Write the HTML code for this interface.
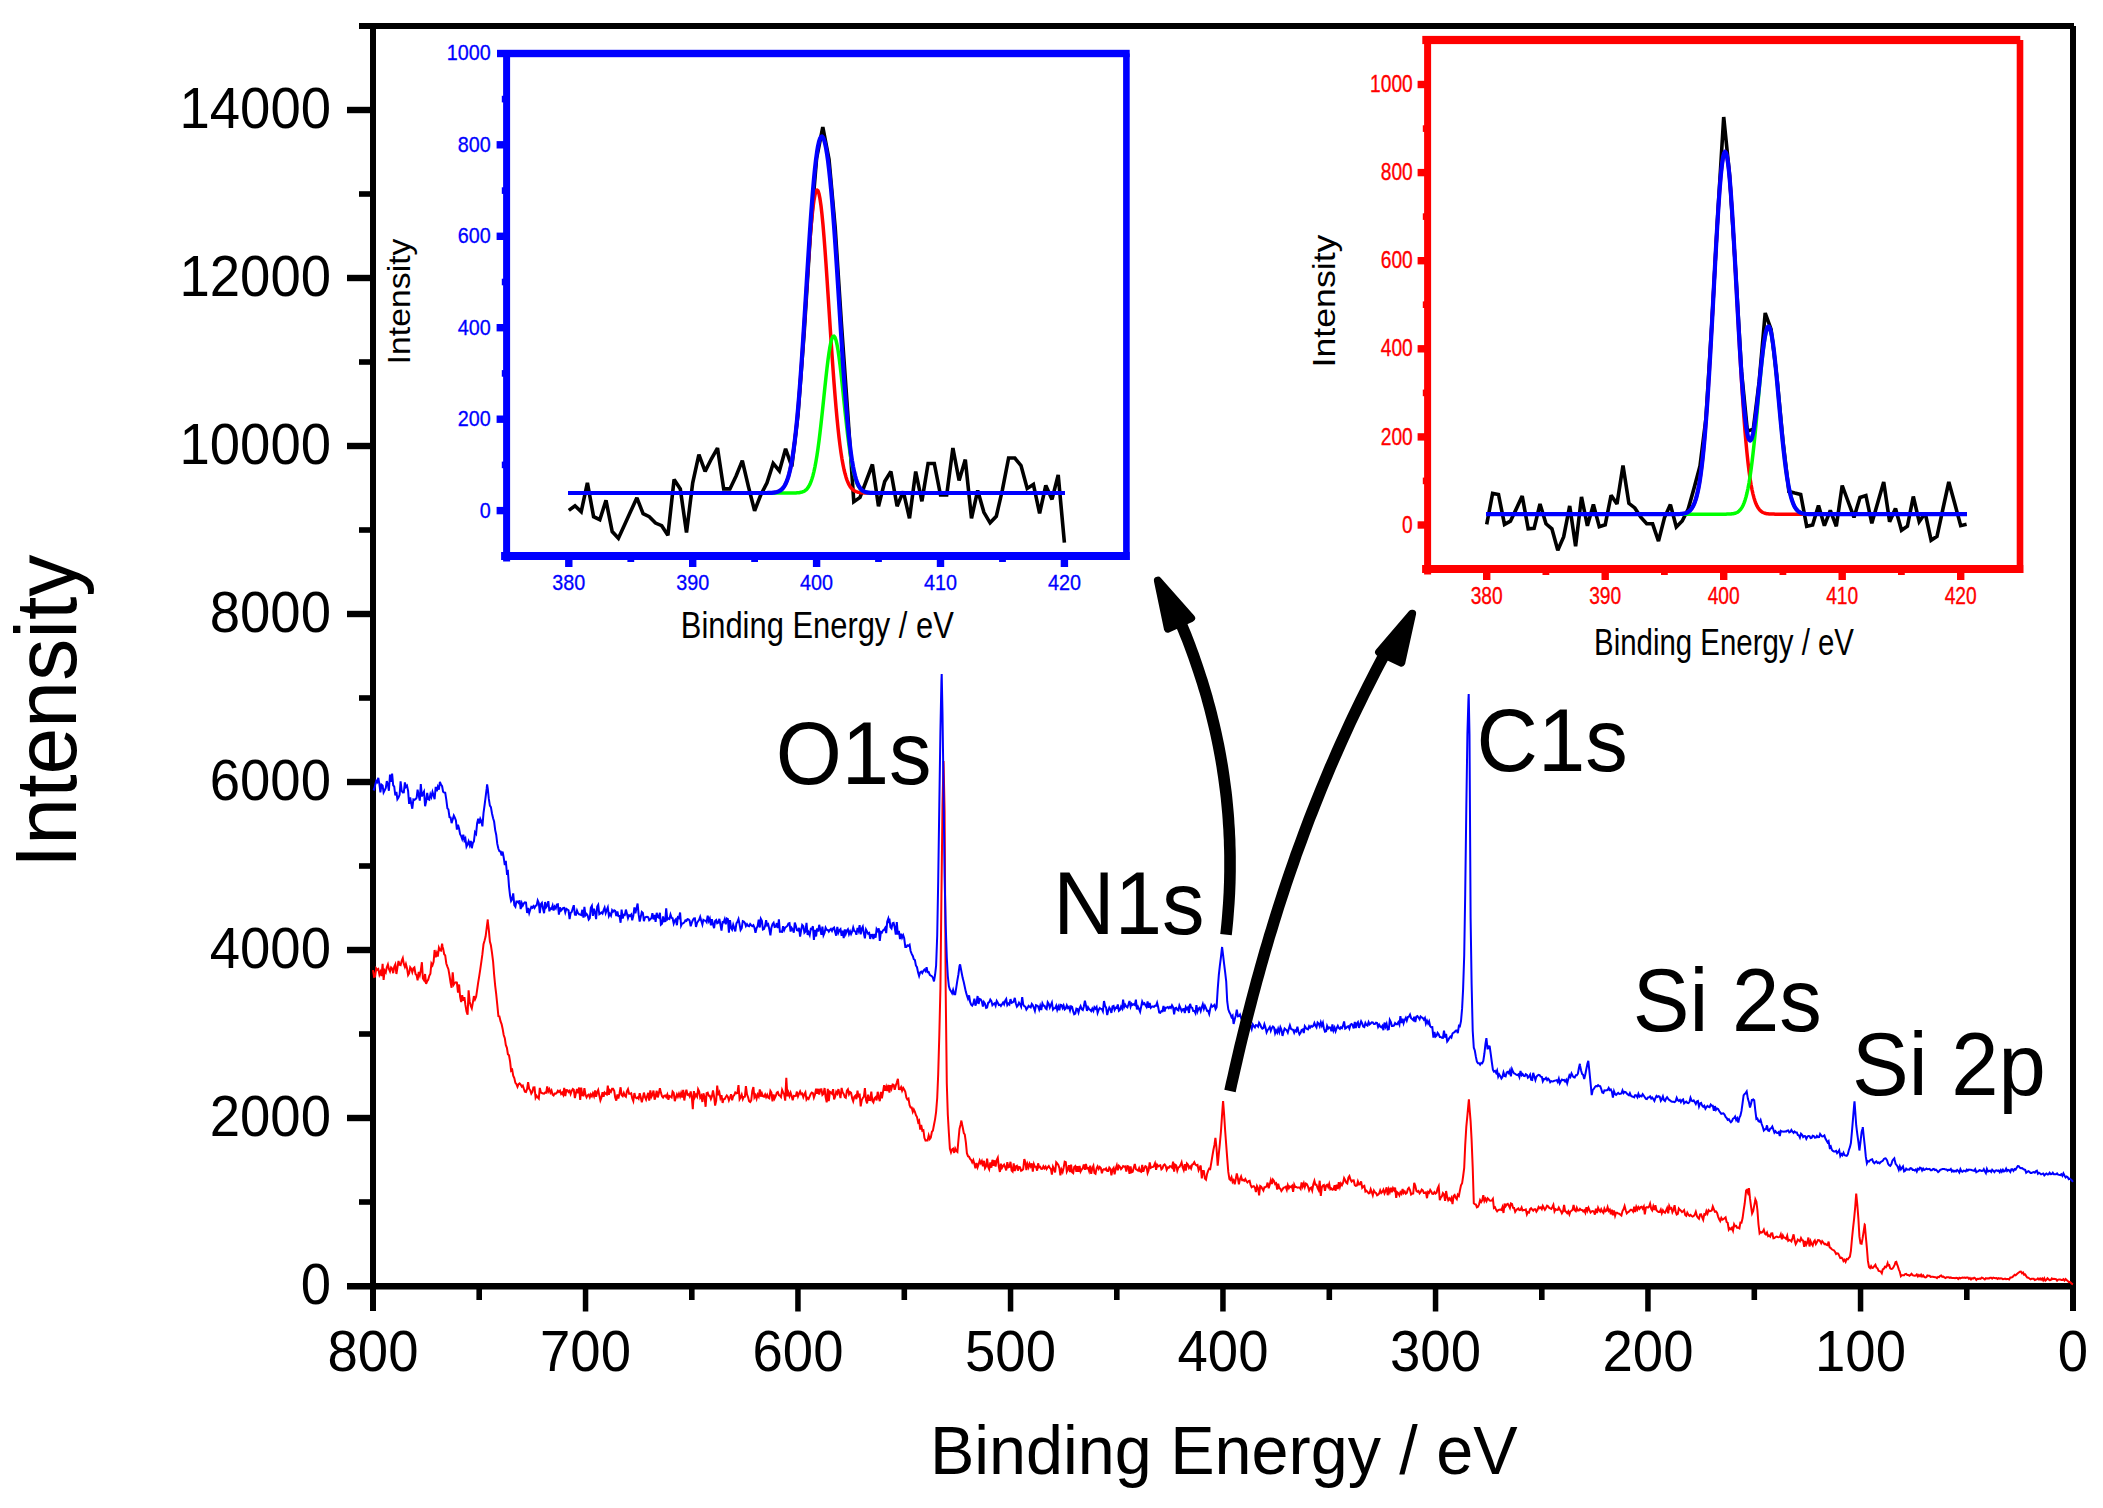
<!DOCTYPE html>
<html lang="en"><head><meta charset="utf-8"><title>XPS survey spectra</title>
<style>
html,body{margin:0;padding:0;background:#fff;}
body{width:2103px;height:1508px;overflow:hidden;}
svg{display:block;}
</style></head><body>
<svg width="2103" height="1508" viewBox="0 0 2103 1508" shape-rendering="geometricPrecision"><g fill="#000"><rect x="359" y="23" width="1715" height="6"/><rect x="370" y="26" width="6" height="1285"/><rect x="2070" y="26" width="6" height="1285"/><rect x="347" y="1283" width="1729" height="6.5"/><rect x="359" y="1199.2" width="14" height="5.6"/><rect x="347" y="1114.8" width="26" height="6.4"/><rect x="359" y="1031.2" width="14" height="5.6"/><rect x="347" y="946.8" width="26" height="6.4"/><rect x="359" y="863.2" width="14" height="5.6"/><rect x="347" y="778.8" width="26" height="6.4"/><rect x="359" y="695.2" width="14" height="5.6"/><rect x="347" y="610.8" width="26" height="6.4"/><rect x="359" y="527.2" width="14" height="5.6"/><rect x="347" y="442.8" width="26" height="6.4"/><rect x="359" y="359.2" width="14" height="5.6"/><rect x="347" y="274.8" width="26" height="6.4"/><rect x="359" y="191.2" width="14" height="5.6"/><rect x="347" y="106.8" width="26" height="6.4"/><rect x="1964" y="1286" width="5.6" height="14"/><rect x="1857.8" y="1286" width="5.5" height="25.5"/><rect x="1751.5" y="1286" width="5.6" height="14"/><rect x="1645.2" y="1286" width="5.5" height="25.5"/><rect x="1539" y="1286" width="5.6" height="14"/><rect x="1432.8" y="1286" width="5.5" height="25.5"/><rect x="1326.5" y="1286" width="5.6" height="14"/><rect x="1220.2" y="1286" width="5.5" height="25.5"/><rect x="1114" y="1286" width="5.6" height="14"/><rect x="1007.8" y="1286" width="5.5" height="25.5"/><rect x="901.5" y="1286" width="5.6" height="14"/><rect x="795.2" y="1286" width="5.5" height="25.5"/><rect x="689" y="1286" width="5.6" height="14"/><rect x="582.8" y="1286" width="5.5" height="25.5"/><rect x="476.4" y="1286" width="5.6" height="14"/></g>
<g font-family='"Liberation Sans", Arial, sans-serif' font-size="54.5" fill="#000"><text transform="translate(331,1303.6) scale(1,1.04)" text-anchor="end">0</text><text transform="translate(331,1135.6) scale(1,1.04)" text-anchor="end">2000</text><text transform="translate(331,967.6) scale(1,1.04)" text-anchor="end">4000</text><text transform="translate(331,799.6) scale(1,1.04)" text-anchor="end">6000</text><text transform="translate(331,631.6) scale(1,1.04)" text-anchor="end">8000</text><text transform="translate(331,463.6) scale(1,1.04)" text-anchor="end">10000</text><text transform="translate(331,295.6) scale(1,1.04)" text-anchor="end">12000</text><text transform="translate(331,127.6) scale(1,1.04)" text-anchor="end">14000</text><text transform="translate(2073,1371) scale(1,1.04)" text-anchor="middle">0</text><text transform="translate(1860.5,1371) scale(1,1.04)" text-anchor="middle">100</text><text transform="translate(1648,1371) scale(1,1.04)" text-anchor="middle">200</text><text transform="translate(1435.5,1371) scale(1,1.04)" text-anchor="middle">300</text><text transform="translate(1223,1371) scale(1,1.04)" text-anchor="middle">400</text><text transform="translate(1010.5,1371) scale(1,1.04)" text-anchor="middle">500</text><text transform="translate(798,1371) scale(1,1.04)" text-anchor="middle">600</text><text transform="translate(585.5,1371) scale(1,1.04)" text-anchor="middle">700</text><text transform="translate(373,1371) scale(1,1.04)" text-anchor="middle">800</text></g>
<text transform="translate(1223.8,1473.5) scale(1,1.02)" text-anchor="middle" font-family='"Liberation Sans", Arial, sans-serif' font-size="66.5" fill="#000">Binding Energy / eV</text>
<text transform="translate(75.7,711.3) rotate(-90) scale(1,1.045)" text-anchor="middle" font-family='"Liberation Sans", Arial, sans-serif' font-size="84.2" fill="#000">Intensity</text>
<polyline fill="none" stroke="#ff0000" stroke-width="2" stroke-linejoin="miter" points="373,970.2 374.1,976.9 375.1,976.6 376.2,968.4 377.2,969.8 378.3,969 379.4,974.6 380.4,971.9 381.5,976.1 382.6,963.8 383.6,980 384.7,970.6 385.8,972.3 386.8,967.2 387.9,964.4 388.9,968.9 390,971.4 391.1,967.4 392.1,968.4 393.2,973.2 394.2,966.7 395.3,964.4 396.4,974 397.4,967.9 398.5,961 399.6,964.8 400.6,965.2 401.7,960.7 402.8,958.1 403.8,963.9 404.9,967 405.9,964 407,968.2 408.1,975.2 409.1,973.5 410.2,967.3 411.2,968.7 412.3,972.2 413.4,968.4 414.4,967.5 415.5,974 416.6,975.2 417.6,980.4 418.7,971.8 419.8,975.3 420.8,970.6 421.9,962.2 422.9,978.5 424,980.2 425.1,974 426.1,984 427.2,981.1 428.2,979.7 429.3,975.8 430.4,973.6 431.4,963.5 432.5,965.4 433.6,961.9 434.6,950 435.7,957.2 436.8,953.1 437.8,956.5 438.9,947.8 439.9,950.2 441,950.6 442.1,943.6 442.6,947 443.1,948.6 444.2,954.2 445.2,955.4 446.3,963.5 447.4,966.6 448.4,969.2 449.5,975.5 450.6,982.8 451.6,987.8 452.7,972.4 453.8,984.5 454.8,982.9 455.9,982.3 456.9,982.6 458,992.7 459.1,984.5 460.1,996.7 461.2,1002 462.2,995.1 463.3,1000.8 464.4,997.2 465.4,1004.9 466.5,1011.4 467.6,1014.8 468.6,990.3 469.7,1001.7 470.8,1006 471.8,1008.5 472.9,1002.3 473.9,996.1 475,999.4 476.1,996.8 477.1,990.1 478.2,982.3 479.2,976.4 480.3,969.1 481.4,961.3 482.4,954.2 483.5,944.3 484.6,940.6 485.6,936.6 486.7,927.9 487.8,919.4 487.8,921.3 488.8,929.6 489.9,941.6 490.9,945.3 492,952.9 493.1,961.7 494.1,974.3 495.2,985.8 496.2,994.2 497.3,1004.9 498.4,1016.2 499.4,1016.3 500.5,1021.1 501.6,1024.1 502.6,1028.7 503.7,1035 504.8,1038.2 505.8,1044.9 506.9,1047.8 507.9,1054.2 509,1055.3 510.1,1061.6 511.1,1070.7 512.2,1069.7 513.2,1075.7 514.3,1078.1 515.4,1082.9 516.4,1084.1 517.5,1086.8 518.6,1084.2 519.6,1083.4 520.7,1084.5 521.8,1086.6 522.8,1085.6 523.9,1088.9 524.9,1091.6 526,1092 527.1,1088.9 528.1,1082.1 529.2,1088.9 530.2,1090.2 531.3,1093.6 532.4,1091.9 533.4,1087.4 534.5,1087.3 535.6,1097.8 536.6,1095.8 537.7,1097.5 538.8,1098.7 539.8,1087.9 540.9,1092.6 541.9,1093 543,1093.6 544.1,1093.7 545.1,1092.6 546.2,1092.7 547.2,1086.4 548.3,1091.5 549.4,1089.3 550.4,1092.6 551.5,1090.5 552.6,1094.6 553.6,1095.4 554.7,1093.5 555.8,1093.6 556.8,1092.8 557.9,1090.8 558.9,1091.9 560,1090.7 561.1,1094 562.1,1092.7 563.2,1094.8 564.2,1087.8 565.3,1096.1 566.4,1090 567.4,1090.1 568.5,1092.1 569.6,1090.8 570.6,1094.1 571.7,1090.9 572.8,1089.1 573.8,1089.9 574.9,1098 575.9,1093.3 577,1088.9 578.1,1093.3 579.1,1087.5 580.2,1100 581.2,1087.7 582.3,1095.2 583.4,1095.5 584.4,1088.1 585.5,1094.7 586.6,1097.3 587.6,1095.4 588.7,1094.6 589.8,1097.3 590.8,1094.4 591.9,1096.2 592.9,1093.4 594,1096.2 595.1,1090.4 596.1,1096.9 597.2,1092.1 598.2,1090 599.3,1095.4 600.4,1100.4 601.4,1097.7 602.5,1092.2 603.6,1096.7 604.6,1092.5 605.7,1093.7 606.8,1094.5 607.8,1085.6 608.9,1094.9 609.9,1090.4 611,1091.7 612.1,1088.8 613.1,1088.7 614.2,1090.8 615.2,1097.4 616.3,1100.6 617.4,1094.3 618.4,1098.5 619.5,1093.4 620.6,1087.3 621.6,1095 622.7,1096.1 623.8,1092.9 624.8,1095.6 625.9,1096.7 626.9,1091.3 628,1089.1 629.1,1093.8 630.1,1093.8 631.2,1093.3 632.2,1098.3 633.3,1101.1 634.4,1093.1 635.4,1097.3 636.5,1098.2 637.6,1097.4 638.6,1098.7 639.7,1093.3 640.8,1097.6 641.8,1102.3 642.9,1097.8 643.9,1092.6 645,1097.1 646.1,1099.6 647.1,1096.3 648.2,1092.9 649.2,1100.7 650.3,1090.3 651.4,1096.9 652.4,1094.9 653.5,1090.6 654.6,1099.6 655.6,1096.4 656.7,1090.8 657.8,1097.4 658.8,1093.5 659.9,1088.1 660.9,1092.6 662,1096.2 663.1,1097.6 664.1,1095.9 665.2,1095.4 666.2,1097 667.3,1094.5 668.4,1099.7 669.4,1095.9 670.5,1096.5 671.6,1097.4 672.6,1091.5 673.7,1092.8 674.8,1101.1 675.8,1097.8 676.9,1094.4 677.9,1096.8 679,1093.7 680.1,1096.6 681.1,1093.1 682.2,1097.5 683.2,1089.8 684.3,1100.5 685.4,1093.7 686.4,1089.8 687.5,1094.8 688.6,1094.3 689.6,1096.3 690.7,1091.5 691.8,1097.2 692.8,1109.2 693.9,1091.1 694.9,1097.1 696,1094.7 697.1,1096.6 698.1,1089.2 699.2,1091.6 700.2,1097.6 701.3,1095.8 702.4,1102 703.4,1093.4 704.5,1096.6 705.6,1106.8 706.6,1093.1 707.7,1092.6 708.8,1095.8 709.8,1095.8 710.9,1099 711.9,1096.4 713,1090.5 714.1,1096.6 715.1,1105.6 716.2,1100.5 717.2,1085.5 718.3,1095.2 719.4,1092.5 720.4,1098 721.5,1095.1 722.6,1102.9 723.6,1099.1 724.7,1099 725.8,1097 726.8,1095.5 727.9,1096.9 728.9,1100.4 730,1097.5 731.1,1094.2 732.1,1100.3 733.2,1096.2 734.2,1095.2 735.3,1092.5 736.4,1093.4 737.4,1093.1 738.5,1085.1 739.6,1099.2 740.6,1097.5 741.7,1094.6 742.8,1099.2 743.8,1096.9 744.9,1096.7 745.9,1086.1 747,1094.4 748.1,1097.2 749.1,1101.2 750.2,1102 751.2,1100.5 752.3,1090.9 753.4,1087 754.4,1097.3 755.5,1095.2 756.6,1098.7 757.6,1094.6 758.7,1096.6 759.8,1089.5 760.8,1096.7 761.9,1093.4 762.9,1096.3 764,1096.7 765.1,1094.5 766.1,1097.2 767.2,1094.9 768.2,1097.7 769.3,1098.4 770.4,1091 771.4,1092.7 772.5,1101.3 773.6,1094.4 774.6,1098.5 775.7,1096.2 776.8,1092.7 777.8,1092 778.9,1095.2 779.9,1095.6 781,1097 782.1,1090 783.1,1092.4 784.2,1094.3 785.2,1100.6 786.3,1077.9 787.4,1096.2 788.4,1092.5 789.5,1096.1 790.6,1092.7 791.6,1095.8 792.7,1100.3 793.8,1095.8 794.8,1096 795.9,1095.8 796.9,1091.6 798,1096.4 799.1,1093.6 800.1,1091.3 801.2,1094.2 802.2,1093.5 803.3,1097.1 804.4,1094.1 805.4,1092.3 806.5,1099.6 807.6,1097.9 808.6,1098.9 809.7,1096.4 810.8,1093.8 811.8,1092.6 812.9,1093.1 813.9,1097.6 815,1094.5 816.1,1088.6 817.1,1093.9 818.2,1088.8 819.2,1094.6 820.3,1089.5 821.4,1089.4 822.4,1094.9 823.5,1093.8 824.6,1088 825.6,1097 826.7,1102.3 827.8,1088.8 828.8,1101.1 829.9,1091.8 830.9,1092.6 832,1093.8 833.1,1089.2 834.1,1099.4 835.2,1096.4 836.2,1091.9 837.3,1093.7 838.4,1089.1 839.4,1093.5 840.5,1098.1 841.6,1087.9 842.6,1092.2 843.7,1094 844.8,1097 845.8,1097.7 846.9,1090.6 847.9,1089.3 849,1094.3 850.1,1092 851.1,1092.8 852.2,1098.5 853.2,1101.3 854.3,1096.8 855.4,1095.7 856.4,1099.1 857.5,1090.6 858.6,1097.4 859.6,1093.6 860.7,1106.3 861.8,1100.1 862.8,1098 863.9,1096.7 864.9,1088.2 866,1100.1 867.1,1103.4 868.1,1094.7 869.2,1099.9 870.2,1100.1 871.3,1091.7 872.4,1100.9 873.4,1102.4 874.5,1098.3 875.6,1097.2 876.6,1100.4 877.7,1091.8 878.8,1097.8 879.8,1101.1 880.9,1091.9 881.9,1098.2 883,1092.1 884.1,1085.1 885.1,1090.8 886.2,1087 887.2,1091.1 888.3,1084.9 889.4,1092.5 890.4,1085.2 891.5,1088.6 892.6,1084.5 893.6,1084.8 894.7,1089.8 895.8,1085.5 896.8,1082.6 897.9,1078.9 898.9,1089.1 900,1089.2 901.1,1087.2 902.1,1090.7 903.2,1088 904.2,1089.6 905.3,1091.9 906.4,1097.6 907.4,1099.5 908.5,1098.6 909.6,1105.1 910.6,1107.4 911.7,1107.4 912.8,1111.8 913.8,1109.5 914.9,1111.8 915.9,1115.1 917,1117 918.1,1122 919.1,1120.6 920.2,1129.6 921.2,1124.9 922.3,1130.7 923.4,1130.2 924.4,1137.8 925.5,1140.6 926.6,1140.2 927.6,1140.4 928.7,1135.4 929.8,1139 930.8,1137.7 931.9,1131.8 932.9,1130.6 934,1124.7 935.1,1119.1 936.1,1111.8 937.2,1098 938.2,1074.1 939.3,1035.5 940.4,989.1 941.4,898.4 942.5,806 943.5,761 943.6,763.7 944.6,811.6 945.7,991 946.8,1083.5 947.8,1114.5 948.9,1133.2 949.9,1148.9 951,1152.4 952.1,1149.4 953.1,1148.7 954.2,1152.9 955.2,1148.5 956.3,1150.9 957.4,1151.9 958.4,1140.6 959.5,1128.9 960.6,1124.4 961.4,1120.5 961.6,1122.3 962.7,1127.3 963.8,1133 964.8,1134.5 965.9,1142.6 966.9,1153.2 968,1156.2 969.1,1156.8 970.1,1159 971.2,1160.1 972.2,1162.4 973.3,1160.1 974.4,1163.9 975.4,1168.3 976.5,1163 977.6,1167.3 978.6,1164.5 979.7,1160.5 980.8,1163.1 981.8,1161.1 982.9,1166.3 983.9,1160.8 985,1168.1 986.1,1166.1 987.1,1158.6 988.2,1166.9 989.2,1169.2 990.3,1162.5 991.4,1167.7 992.4,1159.8 993.5,1165.8 994.6,1160.3 995.6,1166.6 996.7,1160.1 997.8,1157.7 998.8,1166.5 999.9,1172 1000.9,1163.7 1002,1167.9 1003.1,1165.9 1004.1,1164.7 1005.2,1167.4 1006.2,1170.4 1007.3,1162.2 1008.4,1167.4 1009.4,1166.9 1010.5,1161.8 1011.6,1170.6 1012.6,1171.6 1013.7,1163.4 1014.8,1171.1 1015.8,1166.4 1016.9,1165.8 1017.9,1170.6 1019,1167 1020.1,1167.3 1021.1,1170.8 1022.2,1170.2 1023.2,1169.1 1024.3,1159 1025.4,1162.2 1026.4,1170 1027.5,1164.1 1028.6,1167.3 1029.6,1163.8 1030.7,1166.4 1031.8,1163.4 1032.8,1171.7 1033.9,1164.2 1034.9,1166.8 1036,1166.7 1037.1,1170.7 1038.1,1163.3 1039.2,1167.3 1040.2,1166.8 1041.3,1169 1042.4,1168.9 1043.4,1166.3 1044.5,1168.3 1045.6,1166.6 1046.6,1169.1 1047.7,1167.3 1048.8,1166 1049.8,1167.9 1050.9,1169 1051.9,1174.5 1053,1166.7 1054.1,1169 1055.1,1172.4 1056.2,1162.3 1057.2,1163.4 1058.3,1165 1059.4,1168.1 1060.4,1175.4 1061.5,1169.6 1062.6,1172 1063.6,1168 1064.7,1161.7 1065.8,1162.2 1066.8,1171.7 1067.9,1169.4 1068.9,1165.2 1070,1172.1 1071.1,1164.7 1072.1,1172.3 1073.2,1173.2 1074.2,1167 1075.3,1166.1 1076.4,1171.7 1077.4,1166.2 1078.5,1171.8 1079.6,1166 1080.6,1171.6 1081.7,1169.6 1082.8,1168.1 1083.8,1164.5 1084.9,1169.9 1085.9,1163.9 1087,1168.4 1088.1,1168 1089.1,1171.1 1090.2,1165.6 1091.2,1173.9 1092.3,1168.2 1093.4,1165.8 1094.4,1172.9 1095.5,1173.7 1096.6,1168.4 1097.6,1166.4 1098.7,1168.9 1099.8,1166.9 1100.8,1167.9 1101.9,1173.2 1102.9,1169.9 1104,1169.2 1105.1,1169.7 1106.1,1168.5 1107.2,1171.1 1108.2,1171.1 1109.3,1167.6 1110.4,1168.9 1111.4,1175.4 1112.5,1169.7 1113.6,1168 1114.6,1174.3 1115.7,1168.5 1116.8,1165.3 1117.8,1170.3 1118.9,1165.8 1119.9,1166.9 1121,1169.2 1122.1,1167.9 1123.1,1166.1 1124.2,1166.7 1125.2,1166.5 1126.3,1171.5 1127.4,1166.1 1128.4,1166.5 1129.5,1173.9 1130.6,1166.5 1131.6,1172.3 1132.7,1171.8 1133.8,1167.6 1134.8,1163.9 1135.9,1169.2 1136.9,1169.8 1138,1170.6 1139.1,1168.1 1140.1,1171.3 1141.2,1171.8 1142.2,1164.8 1143.3,1171.8 1144.4,1168.2 1145.4,1166.1 1146.5,1166.8 1147.6,1173 1148.6,1170.4 1149.7,1162.5 1150.8,1167.8 1151.8,1167.1 1152.9,1167 1153.9,1166 1155,1163.3 1156.1,1169.9 1157.1,1164.7 1158.2,1166.3 1159.2,1165.6 1160.3,1165.2 1161.4,1169.4 1162.4,1168.4 1163.5,1165.3 1164.6,1164.5 1165.6,1165.8 1166.7,1169.9 1167.8,1167.5 1168.8,1167.8 1169.9,1166.1 1170.9,1166.3 1172,1167.6 1173.1,1161.7 1174.1,1171.6 1175.2,1164.7 1176.2,1165.3 1177.3,1170.7 1178.4,1167.5 1179.4,1166.9 1180.5,1165.1 1181.6,1162.3 1182.6,1167.3 1183.7,1170.1 1184.8,1164.1 1185.8,1170.6 1186.9,1163.4 1187.9,1164.5 1189,1168 1190.1,1166.5 1191.1,1168.5 1192.2,1164.5 1193.2,1164.1 1194.3,1162.2 1195.4,1164.6 1196.4,1165.4 1197.5,1164.9 1198.6,1170.2 1199.6,1168 1200.7,1165.5 1201.8,1178.4 1202.8,1170.9 1203.9,1171.1 1204.9,1178.6 1206,1179.7 1207.1,1173.9 1208.1,1170.9 1209.2,1168.6 1210.2,1169.1 1211.3,1162.7 1212.4,1155.8 1213.4,1150 1214.5,1144.7 1215.4,1138 1215.6,1139.4 1216.6,1149.1 1217.7,1165.6 1218.8,1154 1219.8,1144.2 1220.9,1132 1221.9,1117.4 1223,1101.8 1223.1,1101 1224.1,1114.3 1225.1,1130 1226.2,1144.7 1227.2,1158.1 1228.3,1171.9 1229.4,1178.9 1230.4,1179.9 1231.5,1177.2 1232.6,1181.9 1233.6,1180.3 1234.7,1184.2 1235.8,1178.9 1236.8,1173.4 1237.9,1178.4 1238.9,1184.3 1240,1179.1 1241.1,1176.5 1242.1,1180.1 1243.2,1179.9 1244.2,1180.7 1245.3,1179 1246.4,1181.3 1247.4,1182.5 1248.5,1181.1 1249.6,1180.8 1250.6,1184.8 1251.7,1187.2 1252.8,1186.5 1253.8,1186.2 1254.9,1187.6 1255.9,1192 1257,1186.1 1258.1,1188.2 1259.1,1195.3 1260.2,1186 1261.2,1186.7 1262.3,1188.8 1263.4,1190.6 1264.4,1187.2 1265.5,1187.3 1266.6,1186.2 1267.6,1182.6 1268.7,1188.2 1269.8,1184.4 1270.8,1180.2 1271.9,1184 1272.9,1179.5 1274,1181 1275.1,1184.1 1276.1,1183.3 1277.2,1189.5 1278.2,1183.7 1279.3,1188.1 1280.4,1188.8 1281.4,1191 1282.5,1189.5 1283.6,1187.7 1284.6,1187.4 1285.7,1186.8 1286.8,1189.8 1287.8,1185.1 1288.9,1188.1 1289.9,1186.4 1291,1187.2 1292.1,1185.8 1293.1,1191.9 1294.2,1184.6 1295.2,1186.9 1296.3,1186.9 1297.4,1187.7 1298.4,1187.4 1299.5,1187.4 1300.6,1188.9 1301.6,1182.5 1302.7,1186.5 1303.8,1183.3 1304.8,1187.1 1305.9,1183.5 1306.9,1184.2 1308,1186.5 1309.1,1190.4 1310.1,1188.3 1311.2,1187.6 1312.2,1190.5 1313.3,1184.3 1314.4,1180.9 1315.4,1184.8 1316.5,1184.7 1317.6,1188.2 1318.6,1190.1 1319.7,1180.7 1320.8,1196 1321.8,1187.4 1322.9,1185.6 1323.9,1185 1325,1190.9 1326.1,1185.6 1327.1,1184.8 1328.2,1187.1 1329.2,1183.9 1330.3,1189.2 1331.4,1188.4 1332.4,1189.7 1333.5,1189.3 1334.6,1185.3 1335.6,1190.9 1336.7,1184.6 1337.8,1189 1338.8,1182.2 1339.9,1186.9 1340.9,1183.4 1342,1185.1 1343.1,1182.7 1344.1,1178.1 1345.2,1180.2 1346.2,1182.6 1347.3,1183.5 1348.4,1177.7 1349.4,1176.1 1350.5,1179.6 1351.6,1181.5 1352.6,1180.5 1353.7,1180.4 1354.8,1185.1 1355.8,1185.8 1356.9,1185.5 1357.9,1181.5 1359,1184.5 1360.1,1184.2 1361.1,1181.3 1362.2,1187.7 1363.2,1186.5 1364.3,1185.9 1365.4,1191.5 1366.4,1190.7 1367.5,1191.8 1368.6,1193.4 1369.6,1193.1 1370.7,1189.2 1371.8,1192.1 1372.8,1195.3 1373.9,1190.6 1374.9,1192.3 1376,1193 1377.1,1195.3 1378.1,1194.7 1379.2,1193.4 1380.2,1190.4 1381.3,1192.9 1382.4,1191.7 1383.4,1189.7 1384.5,1193.3 1385.6,1190.8 1386.6,1187.4 1387.7,1195.2 1388.8,1189.3 1389.8,1192.1 1390.9,1187.8 1391.9,1192.2 1393,1188.1 1394.1,1190.1 1395.1,1187.7 1396.2,1197.9 1397.2,1192.2 1398.3,1193.1 1399.4,1195.3 1400.4,1192.2 1401.5,1193.8 1402.6,1189.1 1403.6,1193 1404.7,1191.5 1405.8,1193.8 1406.8,1193 1407.9,1189.1 1408.9,1187.9 1410,1190 1411.1,1194.4 1412.1,1193.6 1413.2,1193.5 1414.2,1182.9 1415.3,1185.8 1416.4,1191 1417.4,1191.7 1418.5,1191 1419.6,1193.4 1420.6,1192.1 1421.7,1189.5 1422.8,1190.3 1423.8,1192.9 1424.9,1192.7 1425.9,1192.3 1427,1198.2 1428.1,1191.9 1429.1,1192.8 1430.2,1190 1431.2,1191.6 1432.3,1193.8 1433.4,1193.9 1434.4,1192.1 1435.5,1193.5 1436.6,1192.6 1437.6,1188.5 1438.7,1186.1 1439.8,1200.2 1440.8,1197.5 1441.9,1196.3 1442.9,1193.1 1444,1194.5 1445.1,1200.9 1446.1,1191 1447.2,1197.1 1448.2,1200.1 1449.3,1198.4 1450.4,1200 1451.4,1197.9 1452.5,1204.1 1453.6,1195.9 1454.6,1195 1455.7,1197.7 1456.8,1199.2 1457.8,1194.7 1458.9,1195.9 1459.9,1190.6 1461,1185.4 1462.1,1183.3 1463.1,1176.5 1464.2,1167.8 1465.2,1145.2 1466.3,1126.9 1467.4,1115.3 1468.4,1104.3 1468.9,1099.4 1469.5,1107.6 1470.6,1121.1 1471.6,1139.9 1472.7,1167.1 1473.8,1203.3 1474.8,1204.1 1475.9,1204.6 1476.9,1207.3 1478,1206.8 1479.1,1204.3 1480.1,1200.1 1481.2,1202 1482.2,1200.4 1483.3,1195.2 1484.4,1200.9 1485.4,1198.7 1486.5,1201.1 1487.6,1198.3 1488.6,1199.2 1489.7,1200.6 1490.8,1200.8 1491.8,1200.5 1492.9,1198.8 1493.9,1208 1495,1207.2 1496.1,1209.8 1497.1,1211.3 1498.2,1210 1499.2,1209.7 1500.3,1209.5 1501.4,1210 1502.4,1207.3 1503.5,1213 1504.6,1203.7 1505.6,1206.3 1506.7,1204.6 1507.8,1203.9 1508.8,1205.5 1509.9,1207.9 1510.9,1203.5 1512,1204 1513.1,1207.9 1514.1,1208 1515.2,1211.8 1516.2,1210.3 1517.3,1209.1 1518.4,1208.4 1519.4,1210.2 1520.5,1209.9 1521.6,1207.5 1522.6,1210.5 1523.7,1210.1 1524.8,1210 1525.8,1209.5 1526.9,1214.3 1527.9,1212.1 1529,1212.6 1530.1,1209.1 1531.1,1208.2 1532.2,1209.7 1533.2,1210.7 1534.3,1209.2 1535.4,1209.3 1536.4,1211.7 1537.5,1210.1 1538.6,1207 1539.6,1208.1 1540.7,1207.4 1541.8,1209.1 1542.8,1205.9 1543.9,1207.9 1544.9,1209.7 1546,1208 1547.1,1205.7 1548.1,1206.2 1549.2,1207.9 1550.2,1208.3 1551.3,1208.9 1552.4,1207 1553.4,1204.8 1554.5,1211.3 1555.6,1209.2 1556.6,1209.9 1557.7,1210 1558.8,1207.5 1559.8,1209.5 1560.9,1211.1 1561.9,1213.3 1563,1211.5 1564.1,1204.9 1565.1,1211.1 1566.2,1211.8 1567.2,1213.2 1568.3,1211.3 1569.4,1214.5 1570.4,1211.5 1571.5,1210.8 1572.6,1209.8 1573.6,1204.9 1574.7,1210.3 1575.8,1211.2 1576.8,1207.8 1577.9,1210.6 1578.9,1210.6 1580,1208.9 1581.1,1210 1582.1,1210 1583.2,1211.5 1584.2,1210.3 1585.3,1212.7 1586.4,1207.2 1587.4,1210.8 1588.5,1207.7 1589.6,1210.3 1590.6,1212.5 1591.7,1211.4 1592.8,1211 1593.8,1211.4 1594.9,1214.6 1595.9,1208.7 1597,1213.1 1598.1,1207.8 1599.1,1210.1 1600.2,1211.6 1601.2,1209.3 1602.3,1211.7 1603.4,1212.9 1604.4,1208.7 1605.5,1211.2 1606.6,1210.5 1607.6,1207.1 1608.7,1211 1609.8,1209.7 1610.8,1214.4 1611.9,1209.6 1612.9,1215.3 1614,1210.4 1615.1,1215.9 1616.1,1212.8 1617.2,1212.7 1618.2,1213.5 1619.3,1213.7 1620.4,1214.8 1621.4,1215.6 1622.5,1211 1623.6,1209.1 1624.6,1206 1625.7,1210.3 1626.8,1213.4 1627.8,1212.4 1628.9,1211.7 1629.9,1210.5 1631,1209.6 1632.1,1210.2 1633.1,1211.6 1634.2,1206.6 1635.2,1212 1636.3,1206.9 1637.4,1209.6 1638.4,1207.1 1639.5,1208.8 1640.6,1207.1 1641.6,1206.7 1642.7,1208.6 1643.8,1206.5 1644.8,1214.3 1645.9,1207.6 1646.9,1207.1 1648,1207.6 1649.1,1206.6 1650.1,1203.7 1651.2,1208.8 1652.2,1210.3 1653.3,1206.4 1654.4,1210 1655.4,1205.1 1656.5,1210.3 1657.6,1211.4 1658.6,1211.9 1659.7,1211.9 1660.8,1209.6 1661.8,1213.3 1662.9,1210.4 1663.9,1212.1 1665,1212.8 1666.1,1210.4 1667.1,1208.1 1668.2,1213.4 1669.2,1206 1670.3,1208.7 1671.4,1208.1 1672.4,1212.3 1673.5,1209.9 1674.6,1205.2 1675.6,1211.7 1676.7,1214.6 1677.8,1213.9 1678.8,1208.5 1679.9,1209.8 1680.9,1210.7 1682,1212.1 1683.1,1211.3 1684.1,1210.1 1685.2,1215 1686.2,1215.8 1687.3,1212.7 1688.4,1214.7 1689.4,1215.8 1690.5,1214.9 1691.6,1216 1692.6,1216.6 1693.7,1216 1694.8,1214.5 1695.8,1211.8 1696.9,1216 1697.9,1217.6 1699,1218.8 1700.1,1214.4 1701.1,1214.3 1702.2,1217.4 1703.2,1219.8 1704.3,1214.2 1705.4,1214.6 1706.4,1211 1707.5,1213.6 1708.6,1210.1 1709.6,1211.2 1710.7,1211.1 1711.8,1210.3 1712.8,1206.5 1713.9,1209.3 1714.9,1211.8 1716,1211.4 1717.1,1213 1718.1,1216.6 1719.2,1219.2 1720.2,1221 1721.3,1217.8 1722.4,1219.7 1723.4,1219.2 1724.5,1218.3 1725.6,1217.4 1726.6,1221.9 1727.7,1222.8 1728.8,1229.6 1729.8,1228.2 1730.9,1229.2 1731.9,1227.8 1733,1230.7 1734.1,1224.3 1735.1,1226.3 1736.2,1225.9 1737.2,1227.9 1738.3,1227.6 1739.4,1228.3 1740.4,1222.7 1741.5,1222.8 1742.6,1218.1 1743.6,1210.6 1744.7,1203.5 1745.8,1193.4 1746.1,1190.5 1746.8,1189.9 1747.9,1192.7 1748.9,1188.1 1749.1,1189.3 1750,1198.4 1751.1,1206.8 1752.1,1213.4 1753.2,1210.9 1754.2,1205.6 1755.3,1200.3 1755.4,1199.5 1756.4,1201.8 1757.4,1210 1758.5,1224.5 1759.6,1233.3 1760.6,1232.1 1761.7,1232.6 1762.8,1231.6 1763.8,1229.7 1764.9,1233.6 1765.9,1234.5 1767,1232.6 1768.1,1236.2 1769.1,1235.5 1770.2,1236.6 1771.2,1233.5 1772.3,1233.4 1773.4,1238.3 1774.4,1238.1 1775.5,1237 1776.6,1236.6 1777.6,1237 1778.7,1237.3 1779.8,1236.8 1780.8,1234.3 1781.9,1239.3 1782.9,1235.5 1784,1237.6 1785.1,1237.8 1786.1,1238.9 1787.2,1235.8 1788.2,1240.7 1789.3,1239.9 1790.4,1240.3 1791.4,1241.3 1792.5,1238 1793.6,1234.3 1794.6,1240.4 1795.7,1244.2 1796.8,1242.2 1797.8,1239.6 1798.9,1240.6 1799.9,1241.4 1801,1238.1 1802.1,1240.3 1803.1,1240.5 1804.2,1246.8 1805.2,1240.9 1806.3,1244.8 1807.4,1242.5 1808.4,1237.5 1809.5,1246.5 1810.6,1241.3 1811.6,1243.8 1812.7,1245.5 1813.8,1241.7 1814.8,1240.4 1815.9,1244 1816.9,1242.3 1818,1240 1819.1,1240.2 1820.1,1241.2 1821.2,1243.3 1822.2,1241.1 1823.3,1242.5 1824.4,1244.1 1825.4,1243.9 1826.5,1244.8 1827.6,1245.2 1828.6,1241.6 1829.7,1247.4 1830.8,1248.1 1831.8,1249.3 1832.9,1249.9 1833.9,1250.3 1835,1251.7 1836.1,1254 1837.1,1253.3 1838.2,1253.6 1839.2,1255.6 1840.3,1258.1 1841.4,1257.7 1842.4,1258.4 1843.5,1261.2 1844.6,1259.9 1845.6,1261.8 1846.7,1259 1847.8,1259.4 1848.8,1257.9 1849.9,1256.7 1850.9,1250.8 1852,1238.5 1853.1,1227.6 1854.1,1218.9 1855.2,1207.1 1856.2,1193.5 1856.2,1193.6 1857.3,1204.7 1858.4,1218.9 1859.4,1236.4 1860.5,1243.5 1861.6,1243.8 1862.6,1238.4 1863.7,1231.2 1864.7,1224.7 1864.8,1224.8 1865.8,1236.3 1866.9,1248.1 1867.9,1260.9 1869,1267 1870.1,1268.1 1871.1,1266.1 1872.2,1268 1873.2,1267.7 1874.3,1266 1875.4,1264.7 1876.4,1267.5 1877.5,1268.3 1878.6,1270.9 1879.6,1271.1 1880.7,1271.5 1881.8,1273.2 1882.8,1269.3 1883.9,1268.8 1884.9,1266.8 1886,1267.2 1887.1,1264.6 1887.6,1263.2 1888.1,1265.4 1889.2,1265 1890.2,1268.3 1891.3,1268.9 1892.4,1268.7 1893.4,1267.2 1894.5,1265.1 1895.6,1262.1 1896.3,1261.8 1896.6,1263.1 1897.7,1265.8 1898.8,1269.3 1899.8,1271.7 1900.9,1276.3 1901.9,1275.2 1903,1275.3 1904.1,1275.2 1905.1,1274.1 1906.2,1273.9 1907.2,1274.9 1908.3,1274.9 1909.4,1275.7 1910.4,1274.9 1911.5,1273.8 1912.6,1275.2 1913.6,1275.6 1914.7,1275.8 1915.8,1275.5 1916.8,1274.4 1917.9,1276.4 1918.9,1275.1 1920,1276.2 1921.1,1274.7 1922.1,1276.5 1923.2,1275.4 1924.2,1276.9 1925.3,1277.4 1926.4,1277.1 1927.4,1275.4 1928.5,1275.7 1929.6,1275.8 1930.6,1277 1931.7,1276.8 1932.8,1276.7 1933.8,1276.9 1934.9,1277.2 1935.9,1277.3 1937,1278.1 1938.1,1276.9 1939.1,1277.2 1940.2,1275.8 1941.2,1275.5 1942.3,1276.8 1943.4,1276.5 1944.4,1277.5 1945.5,1278.1 1946.6,1277.2 1947.6,1277.3 1948.7,1277.3 1949.8,1277.8 1950.8,1277.3 1951.9,1278 1952.9,1277.9 1954,1278 1955.1,1278.3 1956.1,1277.8 1957.2,1277.9 1958.2,1279 1959.3,1277.8 1960.4,1278.4 1961.4,1277.9 1962.5,1277.6 1963.6,1277.7 1964.6,1277.5 1965.7,1278 1966.8,1277.6 1967.8,1277.5 1968.9,1278.9 1969.9,1278 1971,1279.5 1972.1,1278.3 1973.1,1278.7 1974.2,1277.8 1975.2,1278.3 1976.3,1279.9 1977.4,1278.8 1978.4,1278.9 1979.5,1278.5 1980.6,1278.9 1981.6,1277.6 1982.7,1277.9 1983.8,1278.7 1984.8,1279.4 1985.9,1278.2 1986.9,1278.4 1988,1278.3 1989.1,1278.4 1990.1,1277.8 1991.2,1277.7 1992.2,1278.6 1993.3,1277.6 1994.4,1278.1 1995.4,1278.3 1996.5,1278.1 1997.6,1278.9 1998.6,1278.2 1999.7,1278.7 2000.8,1278.2 2001.8,1278.4 2002.9,1279.2 2003.9,1279.1 2005,1278.6 2006.1,1279.2 2007.1,1279.1 2008.2,1279 2009.2,1279.4 2010.3,1277.6 2011.4,1277.6 2012.4,1277.1 2013.5,1276.1 2014.6,1274.7 2015.6,1275.3 2016.7,1274.2 2017.8,1273.3 2018.8,1272.5 2019.9,1271.7 2020.9,1271.5 2022,1273.3 2023.1,1272.5 2024.1,1274.7 2025.2,1274.4 2026.2,1276.1 2027.3,1277.6 2028.4,1277.8 2029.4,1278.5 2030.5,1279.3 2031.6,1278.8 2032.6,1278.8 2033.7,1278.8 2034.8,1280 2035.8,1279.5 2036.9,1279.4 2037.9,1278.4 2039,1279.5 2040.1,1278.4 2041.1,1279.7 2042.2,1278.5 2043.2,1280.4 2044.3,1278.3 2045.4,1280.6 2046.4,1279.8 2047.5,1278.3 2048.6,1279.2 2049.6,1280.2 2050.7,1280 2051.8,1278.4 2052.8,1279.1 2053.9,1278.8 2054.9,1278.9 2056,1279.1 2057.1,1280.6 2058.1,1279.6 2059.2,1279.4 2060.2,1279.4 2061.3,1280 2062.4,1280 2063.4,1279.1 2064.5,1280.5 2065.6,1279 2066.6,1279.9 2067.7,1280.9 2068.8,1282.2 2069.8,1281.9 2070.9,1282.8 2071.9,1283.8 2073,1284.2"/>
<polyline fill="none" stroke="#0000ff" stroke-width="2" stroke-linejoin="miter" points="373,789 374.1,789.5 375.1,785.3 376.2,780.9 377.2,782.1 378.3,777.8 379.4,784.2 380.4,792.3 381.5,784.6 382.6,785.5 383.6,792.5 384.7,790.4 385.8,787.9 386.8,781.1 387.9,784.7 388.9,790.8 390,774.6 391.1,781.9 392.1,773.5 393.2,785.4 394.2,786.5 395.3,795.5 396.4,792 397.4,799.2 398.5,797.6 399.6,794.8 400.6,781.3 401.7,790.8 402.8,792.4 403.8,792.3 404.9,782.4 405.9,786.9 407,785.7 408.1,790.8 409.1,803.9 410.2,797.5 411.2,803.4 412.3,808.7 413.4,799.5 414.4,799.9 415.5,799.2 416.6,797.9 417.6,789.7 418.7,795.2 419.8,800.6 420.8,784 421.9,796.4 422.9,793.7 424,791.6 425.1,806.2 426.1,801.7 427.2,792.9 428.2,799.2 429.3,799.8 430.4,794.4 431.4,797 432.5,791.9 433.6,795.5 434.6,799.2 435.7,786.9 436.8,791.2 437.8,786.9 438.9,789.7 439.9,781.8 441,784.6 442.1,786.2 443.1,791.7 444.2,792.5 445.2,792.7 446.3,799.7 447.4,808.3 448.4,809.4 449.5,817.2 450.6,817.5 451.6,823.2 452.7,819.5 453.8,815.6 454.8,817.7 455.9,820.4 456.9,829.6 458,824.8 459.1,828.7 460.1,834.2 461.2,836.1 462.2,839 463.3,834.7 464.4,840.4 465.4,838.5 466.5,846.6 467.6,844.3 468.6,841.3 469.7,845.2 470.8,840.9 471.8,848.2 472.9,842.9 473.9,841.3 475,832.2 476.1,833.8 477.1,823.4 478.2,818.7 479.2,823.5 480.3,818.9 481.4,821.3 482.4,826.3 483.5,813.1 484.6,805 485.6,797.1 486.7,788.4 487.1,784.4 487.8,788.9 488.8,798.7 489.9,805.6 490.9,807.1 492,813.5 493.1,818.2 494.1,821.5 495.2,830.1 496.2,834.7 497.3,843.9 498.4,848.8 499.4,851.2 500.5,851.4 501.6,855.6 502.6,851.6 503.7,857.4 504.8,865.1 505.8,860.9 506.9,872.8 507.9,871.7 509,886.3 510.1,895.8 511.1,901 512.2,899.2 513.2,893.3 514.3,905.2 515.4,906.8 516.4,901.6 517.5,901.6 518.6,902.9 519.6,900.3 520.7,909.1 521.8,903.1 522.8,905.6 523.9,903.3 524.9,902.3 526,902.5 527.1,913 528.1,908 529.2,913 530.2,909.8 531.3,906.9 532.4,907.8 533.4,906.2 534.5,907.9 535.6,905.7 536.6,905.4 537.7,900.5 538.8,903 539.8,913.2 540.9,904.1 541.9,902.8 543,908.6 544.1,913.2 545.1,902 546.2,907.2 547.2,905.6 548.3,901.2 549.4,911.3 550.4,908.3 551.5,908.8 552.6,905.6 553.6,910.6 554.7,906.7 555.8,908.4 556.8,904.6 557.9,904.3 558.9,914.6 560,907.3 561.1,910.6 562.1,909.4 563.2,907.9 564.2,907.8 565.3,912.4 566.4,908.8 567.4,909.5 568.5,910.3 569.6,919.2 570.6,913.1 571.7,912 572.8,908.4 573.8,905.2 574.9,914.6 575.9,914.8 577,910.5 578.1,913.3 579.1,914.3 580.2,914.6 581.2,915.1 582.3,909.8 583.4,917.7 584.4,906.8 585.5,915.3 586.6,913.9 587.6,915.5 588.7,919.6 589.8,918.2 590.8,907.9 591.9,905.8 592.9,915.8 594,908.7 595.1,912.8 596.1,919.2 597.2,906.5 598.2,904.8 599.3,914.2 600.4,913.4 601.4,912.4 602.5,913.6 603.6,910.1 604.6,907.6 605.7,913 606.8,909.9 607.8,907.4 608.9,915.9 609.9,913.8 611,915.7 612.1,910.3 613.1,911.7 614.2,910.4 615.2,911 616.3,916 617.4,911.5 618.4,916.1 619.5,916.1 620.6,922.8 621.6,909.5 622.7,918.5 623.8,914.8 624.8,915.1 625.9,909.6 626.9,913.6 628,918.3 629.1,915.2 630.1,915.9 631.2,914.6 632.2,920.3 633.3,915.8 634.4,907.4 635.4,913.3 636.5,908.4 637.6,903.5 638.6,914.2 639.7,921.6 640.8,916.6 641.8,912 642.9,913 643.9,921.1 645,917.4 646.1,917 647.1,916.7 648.2,917.2 649.2,920.2 650.3,919.3 651.4,918.1 652.4,913.3 653.5,919.4 654.6,914.9 655.6,921.9 656.7,912.8 657.8,917.2 658.8,917.8 659.9,912.8 660.9,924.7 662,923.8 663.1,916.4 664.1,921.3 665.2,921.1 666.2,908.3 667.3,919.5 668.4,918.4 669.4,919 670.5,914.6 671.6,917.8 672.6,918.3 673.7,923.6 674.8,920.4 675.8,919.2 676.9,925.2 677.9,917.2 679,918 680.1,912.5 681.1,925.7 682.2,923.4 683.2,923.3 684.3,922.4 685.4,920.4 686.4,920.9 687.5,919.2 688.6,919.4 689.6,920.5 690.7,926.2 691.8,922.6 692.8,920.3 693.9,918.4 694.9,918.3 696,926.9 697.1,922.8 698.1,921.2 699.2,919.7 700.2,916.9 701.3,921 702.4,924.6 703.4,919.9 704.5,920.6 705.6,920.7 706.6,922.1 707.7,915.6 708.8,920.9 709.8,918.6 710.9,925.4 711.9,919.1 713,924.4 714.1,928.1 715.1,921.1 716.2,920.1 717.2,923.2 718.3,922.6 719.4,918.9 720.4,924.5 721.5,930.5 722.6,922 723.6,922.3 724.7,919.2 725.8,924.4 726.8,918.6 727.9,919.2 728.9,932.7 730,920.1 731.1,927.8 732.1,929.5 733.2,924.8 734.2,927.9 735.3,931.4 736.4,923.3 737.4,921.9 738.5,919.1 739.6,924.5 740.6,930 741.7,928.2 742.8,921.1 743.8,921.5 744.9,922.9 745.9,926 747,924.2 748.1,925.9 749.1,926.3 750.2,924.1 751.2,925.2 752.3,926.2 753.4,925.2 754.4,927.5 755.5,932.7 756.6,928 757.6,926.1 758.7,919.6 759.8,927.5 760.8,918.8 761.9,920.9 762.9,929.5 764,929 765.1,925.9 766.1,920.1 767.2,925.2 768.2,924.2 769.3,929.2 770.4,935.4 771.4,927.8 772.5,924.2 773.6,922.8 774.6,927 775.7,926.7 776.8,923.1 777.8,928 778.9,919.4 779.9,931.8 781,931.8 782.1,931.9 783.1,926.2 784.2,930 785.2,927.6 786.3,926.8 787.4,925.9 788.4,923.5 789.5,923.1 790.6,931.5 791.6,927.9 792.7,929.5 793.8,932.6 794.8,922.5 795.9,926.1 796.9,930.3 798,930.6 799.1,927.9 800.1,936.6 801.2,930.2 802.2,925 803.3,926.2 804.4,932.7 805.4,931.5 806.5,922.8 807.6,935 808.6,932.3 809.7,935.1 810.8,928.8 811.8,929.2 812.9,926.2 813.9,939.9 815,929.9 816.1,936.5 817.1,928.4 818.2,931.5 819.2,924.8 820.3,929.6 821.4,934.8 822.4,926.6 823.5,935.3 824.6,932.7 825.6,927.7 826.7,929.8 827.8,930 828.8,931.6 829.9,929.9 830.9,928.9 832,931 833.1,928.4 834.1,927.5 835.2,932.2 836.2,935.7 837.3,926.9 838.4,932.7 839.4,930.4 840.5,929.2 841.6,935.8 842.6,930.6 843.7,938 844.8,929.5 845.8,933.7 846.9,930.6 847.9,929.3 849,934.1 850.1,931.3 851.1,934 852.2,931.5 853.2,927.5 854.3,931.1 855.4,931.5 856.4,934.8 857.5,927.8 858.6,930.9 859.6,925.1 860.7,934.3 861.8,928.7 862.8,926.7 863.9,933.6 864.9,938.4 866,929.6 867.1,931.8 868.1,933.7 869.2,932.9 870.2,938.9 871.3,935 872.4,934.9 873.4,939.1 874.5,933.9 875.6,937.7 876.6,929.1 877.7,930.9 878.8,928.3 879.8,940.9 880.9,932 881.9,932.6 883,930.4 884.1,929.7 885.1,928 886.2,933.1 887.2,921.7 888.3,918.6 889.1,923 889.4,918.5 890.4,927 891.5,928.4 892.6,923.2 893.6,922.8 894.7,927.5 895.8,934.7 896.8,922.1 897.9,934.6 898.9,930.8 900,939.1 901.1,933.7 902.1,937.7 903.2,935.2 904.2,938.3 905.3,947.1 906.4,947.1 907.4,945.3 908.5,945.8 909.6,944.8 910.6,951 911.7,953.9 912.8,956 913.8,959.2 914.9,960.1 915.9,965.4 917,967.2 918.1,972.6 919.1,976 920.2,972.3 921.2,971.6 922.3,973.1 923.4,970.7 924.4,969.6 925.5,971 926.6,967.3 927.6,972.2 928.7,972.1 929.8,974.9 930.8,975.7 931.9,976.2 932.9,977.6 934,981.4 935.1,974.5 936.1,965.7 937.2,935.7 938.2,881 939.3,805.5 940.4,731.8 941.4,681.5 941.7,674 942.5,713.4 943.6,794.3 944.6,876 945.7,925 946.8,957.6 947.8,976.1 948.9,986.4 949.9,989.5 951,991.2 952.1,993.2 953.1,989.9 954.2,994.3 955.2,994.3 956.3,987.3 957.4,980.2 958.4,974.5 959.5,966.1 960.1,964.3 960.6,967.2 961.6,972.5 962.7,978.1 963.8,982.3 964.8,987 965.9,992.1 966.9,995.4 968,998.6 969.1,995.4 970.1,1001.9 971.2,1004.7 972.2,1005.7 973.3,1003.6 974.4,998.7 975.4,1005.6 976.5,1002.6 977.6,996 978.6,1004 979.7,998.9 980.8,999.4 981.8,1001.3 982.9,1006.5 983.9,1002 985,1003.7 986.1,1007.8 987.1,1007.4 988.2,1002.7 989.2,1002.3 990.3,999.5 991.4,1001.1 992.4,1005.2 993.5,1004.1 994.6,1003.3 995.6,1005.7 996.7,1000.9 997.8,1002.8 998.8,1005 999.9,1004.6 1000.9,1006 1002,1004.2 1003.1,1002.4 1004.1,1004.3 1005.2,1000.6 1006.2,999 1007.3,1005.1 1008.4,1003.5 1009.4,1004.5 1010.5,999.1 1011.6,1002.8 1012.6,1002.3 1013.7,1001.6 1014.8,997.9 1015.8,1003.2 1016.9,1006.7 1017.9,1005.4 1019,1002.7 1020.1,1004.4 1021.1,1006.6 1022.2,997.1 1023.2,1004.4 1024.3,1006.3 1025.4,1006.7 1026.4,1009.6 1027.5,1008.1 1028.6,1005.9 1029.6,1006.7 1030.7,1007.4 1031.8,1003.9 1032.8,1005.3 1033.9,1007.9 1034.9,1010.9 1036,1005.2 1037.1,1005.6 1038.1,1006.3 1039.2,1009.5 1040.2,1005.8 1041.3,1010 1042.4,1003.4 1043.4,1005.6 1044.5,1005.7 1045.6,1008.4 1046.6,1009.2 1047.7,1002.3 1048.8,1004 1049.8,1007.5 1050.9,1004.9 1051.9,1002.6 1053,1009.6 1054.1,1008.2 1055.1,1008.3 1056.2,1005.7 1057.2,1009.9 1058.3,1006.5 1059.4,1010.2 1060.4,1004.8 1061.5,1005.1 1062.6,1008 1063.6,1005.6 1064.7,1009.4 1065.8,1008.4 1066.8,1005.3 1067.9,1008 1068.9,1006.9 1070,1010.4 1071.1,1006.3 1072.1,1006.9 1073.2,1011.4 1074.2,1014.3 1075.3,1013.7 1076.4,1008.6 1077.4,1009 1078.5,1012.6 1079.6,1008.3 1080.6,1006.1 1081.7,1009.1 1082.8,1010 1083.8,1006.7 1084.9,1000.6 1085.9,1005.2 1087,1010.9 1088.1,1007.2 1089.1,1008.9 1090.2,1009.9 1091.2,1011.1 1092.3,1008.6 1093.4,1010.9 1094.4,1007.2 1095.5,1008.7 1096.6,1007 1097.6,1012.9 1098.7,1009.8 1099.8,1008 1100.8,1008.9 1101.9,1009 1102.9,1011.2 1104,1001 1105.1,1006.1 1106.1,1007.6 1107.2,1015.1 1108.2,1010.7 1109.3,1007.6 1110.4,1009.5 1111.4,1012.9 1112.5,1006.5 1113.6,1005.9 1114.6,1009.9 1115.7,1007.7 1116.8,1008 1117.8,1004.5 1118.9,1010.9 1119.9,1010 1121,1006.7 1122.1,1008.6 1123.1,999.6 1124.2,1006.9 1125.2,1004.7 1126.3,1006.5 1127.4,1007.3 1128.4,1004.5 1129.5,1001 1130.6,1006.6 1131.6,1003.7 1132.7,1004.9 1133.8,1004.2 1134.8,1005 1135.9,999.7 1136.9,1009.4 1138,1006.8 1139.1,1009.2 1140.1,1011.7 1141.2,1006.5 1142.2,1001.6 1143.3,1004.1 1144.4,1003.3 1145.4,1005.3 1146.5,1007 1147.6,1001.4 1148.6,1007.8 1149.7,1002.9 1150.8,1007.8 1151.8,1006.8 1152.9,1006.3 1153.9,1007 1155,1005.8 1156.1,1005.7 1157.1,1002.8 1158.2,1007.3 1159.2,1012.5 1160.3,1012.9 1161.4,1011.1 1162.4,1011.3 1163.5,1005.9 1164.6,1011.6 1165.6,1007.7 1166.7,1007.7 1167.8,1007.1 1168.8,1008.2 1169.9,1006.9 1170.9,1007.9 1172,1005.2 1173.1,1007.2 1174.1,1014.4 1175.2,1008.1 1176.2,1007.7 1177.3,1009.8 1178.4,1010.4 1179.4,1005.5 1180.5,1008 1181.6,1011.1 1182.6,1009.4 1183.7,1009.1 1184.8,1013 1185.8,1007 1186.9,1009.1 1187.9,1007.6 1189,1013 1190.1,1003.8 1191.1,1007.3 1192.2,1007.8 1193.2,1011 1194.3,1010.9 1195.4,1013.1 1196.4,1005.2 1197.5,1011.5 1198.6,1008.7 1199.6,1007.8 1200.7,1011.1 1201.8,1007.2 1202.8,1004.2 1203.9,1008.8 1204.9,1005.8 1206,1008.2 1207.1,1010.9 1208.1,1010.8 1209.2,1013.9 1210.2,1008.8 1211.3,1005 1212.4,1006.7 1213.4,1006 1214.5,1004.9 1215.6,1009 1216.6,1007.2 1217.7,989.4 1218.8,975.2 1219.8,966.1 1220.9,957.5 1221.9,948.4 1222.1,947 1223,954.4 1224.1,963.8 1225.1,971.9 1226.2,981.3 1227.2,1001.2 1228.3,1009.3 1229.4,1012.3 1230.4,1014.1 1231.5,1017.1 1232.6,1015.6 1233.6,1023.9 1234.7,1019.4 1235.8,1015.4 1236.8,1009.6 1237.9,1016.4 1238.9,1016.2 1240,1014.6 1241.1,1018 1242.1,1017.2 1243.2,1021.2 1244.2,1019.4 1245.3,1022.1 1246.4,1025.7 1247.4,1030.5 1248.5,1023.4 1249.6,1025.8 1250.6,1025.7 1251.7,1029 1252.8,1024.4 1253.8,1026.2 1254.9,1027.4 1255.9,1025.2 1257,1025.4 1258.1,1026.7 1259.1,1022.8 1260.2,1024.5 1261.2,1027.2 1262.3,1028.7 1263.4,1028 1264.4,1024.2 1265.5,1027.5 1266.6,1032.4 1267.6,1030.2 1268.7,1028.8 1269.8,1027 1270.8,1030.8 1271.9,1028 1272.9,1026.6 1274,1027.6 1275.1,1033.2 1276.1,1030.4 1277.2,1032.7 1278.2,1028.8 1279.3,1032.2 1280.4,1027.2 1281.4,1029.5 1282.5,1035.9 1283.6,1031.7 1284.6,1028.6 1285.7,1029.6 1286.8,1030.5 1287.8,1032.6 1288.9,1028.5 1289.9,1025.4 1291,1028.9 1292.1,1029.6 1293.1,1029.8 1294.2,1032.7 1295.2,1030.3 1296.3,1031.4 1297.4,1026.8 1298.4,1031.5 1299.5,1034.4 1300.6,1032.9 1301.6,1029.9 1302.7,1029.4 1303.8,1033 1304.8,1026.2 1305.9,1027.9 1306.9,1029 1308,1029.4 1309.1,1026.2 1310.1,1027.7 1311.2,1026 1312.2,1026.7 1313.3,1025.8 1314.4,1023 1315.4,1025.5 1316.5,1027.4 1317.6,1022.5 1318.6,1023.5 1319.7,1026.3 1320.8,1022.3 1321.8,1025.6 1322.9,1022.8 1323.9,1028.5 1325,1031.6 1326.1,1031.2 1327.1,1025.9 1328.2,1028.5 1329.2,1027.3 1330.3,1027.5 1331.4,1031.3 1332.4,1024.5 1333.5,1030.6 1334.6,1027.7 1335.6,1031.2 1336.7,1028.1 1337.8,1025.8 1338.8,1028 1339.9,1029 1340.9,1027.2 1342,1028.1 1343.1,1025.5 1344.1,1021.4 1345.2,1028.7 1346.2,1028.1 1347.3,1026.6 1348.4,1026.3 1349.4,1028.5 1350.5,1024.7 1351.6,1024 1352.6,1025.1 1353.7,1028.4 1354.8,1021.9 1355.8,1028.1 1356.9,1023.5 1357.9,1022.2 1359,1027.9 1360.1,1024.4 1361.1,1021.3 1362.2,1023.5 1363.2,1026.6 1364.3,1027.1 1365.4,1023 1366.4,1024.9 1367.5,1025.6 1368.6,1022.1 1369.6,1024.4 1370.7,1023.5 1371.8,1022.3 1372.8,1022.5 1373.9,1024 1374.9,1024 1376,1022.6 1377.1,1023 1378.1,1026.9 1379.2,1024.7 1380.2,1026.5 1381.3,1027.4 1382.4,1025.9 1383.4,1030.2 1384.5,1022.6 1385.6,1026.7 1386.6,1024 1387.7,1029.5 1388.8,1029.2 1389.8,1020 1390.9,1022.1 1391.9,1025.9 1393,1025.9 1394.1,1025.4 1395.1,1023.1 1396.2,1024.2 1397.2,1024.3 1398.3,1022.2 1399.4,1024.7 1400.4,1016.2 1401.5,1023.1 1402.6,1018.6 1403.6,1023.2 1404.7,1019.8 1405.8,1017.8 1406.8,1020.6 1407.9,1017 1408.9,1016.6 1410,1014.5 1411.1,1018.1 1412.1,1019.1 1413.2,1020.1 1414.2,1016.8 1415.3,1022 1416.4,1016.7 1417.4,1016.1 1418.5,1017.5 1419.6,1019.3 1420.6,1016.5 1421.7,1017.5 1422.8,1018 1423.8,1019.7 1424.9,1018 1425.9,1023.5 1427,1020.7 1428.1,1023.5 1429.1,1021.3 1430.2,1026.3 1431.2,1027.2 1432.3,1027.1 1433.4,1037.7 1434.4,1032 1435.5,1036.6 1436.6,1035.7 1437.6,1032.9 1438.7,1034.3 1439.8,1037 1440.8,1037 1441.9,1037.9 1442.9,1038 1444,1030.7 1445.1,1037.7 1446.1,1034 1447.2,1041.6 1448.2,1040.3 1449.3,1038 1450.4,1036.5 1451.4,1037.5 1452.5,1033.5 1453.6,1032.6 1454.6,1032.1 1455.7,1030.6 1456.8,1030.4 1457.8,1033.1 1458.9,1025.8 1459.9,1026.3 1461,1021.1 1462.1,1008.4 1463.1,989.1 1464.2,955.7 1465.2,894.3 1466.3,809.6 1467.4,734.1 1468.4,700.2 1468.7,694 1469.5,734.9 1470.6,917.6 1471.6,983.5 1472.7,1030.8 1473.8,1047.7 1474.8,1050.5 1475.9,1056.9 1476.9,1061.6 1478,1063.2 1479.1,1063.2 1480.1,1064.7 1481.2,1063 1482.2,1063.3 1483.3,1061 1484.4,1053.5 1485.4,1044.5 1486.4,1038.1 1486.5,1039 1487.6,1049.3 1488.6,1046.2 1489.7,1046.6 1490.8,1054.3 1491.8,1062 1492.9,1069.6 1493.9,1071.6 1495,1070.9 1496.1,1073 1497.1,1070.6 1498.2,1076.6 1499.2,1074.3 1500.3,1076.1 1501.4,1078.5 1502.4,1077 1503.5,1072.4 1504.6,1075.9 1505.6,1076.3 1506.7,1072.4 1507.8,1071.8 1508.8,1073.2 1509.9,1070.4 1510.9,1076.4 1512,1069.2 1513.1,1071.8 1514.1,1073.5 1515.2,1073.8 1516.2,1074.7 1517.3,1075.1 1518.4,1074.3 1519.4,1077 1520.5,1071 1521.6,1075.2 1522.6,1074 1523.7,1075.8 1524.8,1076.1 1525.8,1074.1 1526.9,1074.8 1527.9,1077.7 1529,1076.7 1530.1,1074.7 1531.1,1079.7 1532.2,1080 1533.2,1072.9 1534.3,1076.5 1535.4,1080.1 1536.4,1076.7 1537.5,1075.5 1538.6,1074.8 1539.6,1075.1 1540.7,1076.6 1541.8,1076.9 1542.8,1081.3 1543.9,1079 1544.9,1079.2 1546,1077.9 1547.1,1080.1 1548.1,1078.6 1549.2,1079.9 1550.2,1082.2 1551.3,1081.1 1552.4,1081.4 1553.4,1081.2 1554.5,1080.7 1555.6,1080.4 1556.6,1080.1 1557.7,1082.1 1558.8,1078.8 1559.8,1083.3 1560.9,1081 1561.9,1079.6 1563,1080.2 1564.1,1079.9 1565.1,1081.5 1566.2,1079.9 1567.2,1083.3 1568.3,1079.1 1569.4,1075.4 1570.4,1076.9 1571.5,1073.5 1572.6,1075.8 1573.6,1077.2 1574.7,1077.6 1575.8,1075.3 1576.8,1075.3 1577.9,1073.7 1578.9,1068 1579.9,1063.8 1580,1065.4 1581.1,1070.5 1582.1,1074 1583.2,1074.9 1584.2,1078.9 1585.3,1074.5 1586.4,1068.8 1587.4,1063.7 1588.3,1060.9 1588.5,1062.6 1589.6,1073.1 1590.6,1083.5 1591.7,1095.1 1592.8,1089.8 1593.8,1088.9 1594.9,1087 1595.9,1086 1597,1086.3 1598.1,1085.1 1599.1,1086 1600.2,1086.2 1601.2,1088.8 1602.3,1092.5 1603.4,1093 1604.4,1090.4 1605.5,1090.5 1606.6,1090.2 1607.6,1090 1608.7,1087.9 1609.8,1090.1 1610.8,1089.4 1611.9,1091.9 1612.9,1097.6 1614,1091.2 1615.1,1094.1 1616.1,1094.9 1617.2,1093.7 1618.2,1092.8 1619.3,1093.9 1620.4,1093.8 1621.4,1093.5 1622.5,1090.4 1623.6,1093.1 1624.6,1091.8 1625.7,1092.1 1626.8,1093.6 1627.8,1094.5 1628.9,1095.2 1629.9,1093.2 1631,1095.8 1632.1,1096.5 1633.1,1096.7 1634.2,1097.3 1635.2,1095.1 1636.3,1095.3 1637.4,1097.2 1638.4,1093.9 1639.5,1096.7 1640.6,1095.8 1641.6,1096.3 1642.7,1094.2 1643.8,1095.7 1644.8,1097.2 1645.9,1098.8 1646.9,1099.1 1648,1097.4 1649.1,1097.3 1650.1,1096.4 1651.2,1098.5 1652.2,1097.5 1653.3,1099 1654.4,1100.9 1655.4,1098.2 1656.5,1095.9 1657.6,1097 1658.6,1096.2 1659.7,1096.7 1660.8,1100.8 1661.8,1099.2 1662.9,1096.4 1663.9,1100 1665,1101.1 1666.1,1098.6 1667.1,1097.2 1668.2,1098.8 1669.2,1099.9 1670.3,1100.6 1671.4,1101.6 1672.4,1101.7 1673.5,1101.8 1674.6,1102.2 1675.6,1101.2 1676.7,1097.8 1677.8,1100.1 1678.8,1100.9 1679.9,1099.9 1680.9,1102.1 1682,1100.2 1683.1,1099.4 1684.1,1103.3 1685.2,1102.2 1686.2,1101.6 1687.3,1102.8 1688.4,1103.1 1689.4,1102.1 1690.5,1097.8 1691.6,1100.7 1692.6,1101.1 1693.7,1100.4 1694.8,1102.3 1695.8,1104 1696.9,1101.4 1697.9,1100.9 1699,1106.5 1700.1,1103.4 1701.1,1102.9 1702.2,1105.8 1703.2,1106.8 1704.3,1105.8 1705.4,1108.7 1706.4,1107.1 1707.5,1105.9 1708.6,1106.9 1709.6,1107.2 1710.7,1104.5 1711.8,1105.7 1712.8,1105.7 1713.9,1110.7 1714.9,1106.1 1716,1109.8 1717.1,1108.4 1718.1,1108.9 1719.2,1111 1720.2,1112.3 1721.3,1113.8 1722.4,1113.6 1723.4,1113.4 1724.5,1114.5 1725.6,1117 1726.6,1117.9 1727.7,1119.8 1728.8,1119.2 1729.8,1120.8 1730.9,1122.2 1731.9,1121.2 1733,1118.7 1734.1,1118 1735.1,1116.5 1736.2,1120 1737.2,1118.3 1738.3,1122.6 1739.4,1117.6 1740.4,1115.7 1741.5,1110.9 1742.6,1102.9 1743.6,1095.4 1744.7,1094 1745.8,1092.9 1746.7,1091.5 1746.8,1092.1 1747.9,1098.8 1748.9,1101.9 1750,1107.5 1751.1,1103.5 1752,1099.2 1752.1,1100.6 1753.2,1099.4 1754.2,1100.2 1755.3,1110.3 1756.4,1119 1757.4,1118.6 1758.5,1121.3 1759.6,1121.8 1760.6,1119.9 1761.7,1124 1762.8,1127 1763.8,1130.5 1764.9,1129.3 1765.9,1129.2 1767,1125.4 1768.1,1130.6 1769.1,1131 1770.2,1128.7 1771.2,1128.3 1772.3,1126.5 1773.4,1129.6 1774.4,1132.7 1775.5,1131.2 1776.6,1132.8 1777.6,1133 1778.7,1132.1 1779.8,1136.1 1780.8,1130.9 1781.9,1131.6 1782.9,1131.6 1784,1131.8 1785.1,1131.3 1786.1,1131.7 1787.2,1130.6 1788.2,1130.4 1789.3,1132.4 1790.4,1131.8 1791.4,1129.9 1792.5,1131.7 1793.6,1132.9 1794.6,1131.5 1795.7,1132.4 1796.8,1132.4 1797.8,1134.9 1798.9,1135.4 1799.9,1137.6 1801,1133.7 1802.1,1134.9 1803.1,1137.1 1804.2,1136 1805.2,1136.2 1806.3,1138.9 1807.4,1136.7 1808.4,1136 1809.5,1136.1 1810.6,1138.1 1811.6,1137.9 1812.7,1135.7 1813.8,1136 1814.8,1137.6 1815.9,1137.5 1816.9,1135.9 1818,1137.2 1819.1,1137 1820.1,1134 1821.2,1135.6 1822.2,1136.5 1823.3,1136.3 1824.4,1135.4 1825.4,1138.5 1826.5,1140.5 1827.6,1142.5 1828.6,1141.2 1829.7,1147.6 1830.8,1146.4 1831.8,1149.8 1832.9,1150.9 1833.9,1151.5 1835,1151.4 1836.1,1150.9 1837.1,1153.2 1838.2,1152 1839.2,1150.3 1840.3,1156 1841.4,1154 1842.4,1155.3 1843.5,1152.7 1844.6,1155.3 1845.6,1155.6 1846.7,1155.8 1847.8,1154.4 1848.8,1150.2 1849.9,1147.2 1850.9,1143.1 1852,1130.9 1853.1,1117.7 1854.1,1105.4 1854.5,1101.3 1855.2,1110.7 1856.2,1125.2 1857.3,1134.1 1858.4,1141.8 1859.4,1150.5 1860.5,1141.9 1861.6,1131.9 1862.6,1128.5 1862.8,1127.2 1863.7,1136 1864.8,1146.2 1865.8,1156.7 1866.9,1163.3 1867.9,1161.1 1869,1161.6 1870.1,1160.2 1871.1,1159.6 1872.2,1159.2 1873.2,1162 1874.3,1163.3 1875.4,1162 1876.4,1161.3 1877.5,1163 1878.6,1162.5 1879.6,1163.3 1880.7,1162.1 1881.8,1161.3 1882.8,1160.8 1883.9,1159 1884.9,1158.4 1885.6,1158.3 1886,1158.8 1887.1,1160.4 1888.1,1163.7 1889.2,1165.3 1890.2,1165.9 1891.3,1164.2 1892.4,1160.8 1893.4,1159.3 1894.3,1158.3 1894.5,1159.3 1895.6,1163.8 1896.6,1165 1897.7,1166.8 1898.8,1169.8 1899.8,1166.4 1900.9,1169.4 1901.9,1167.9 1903,1166.4 1904.1,1171.4 1905.1,1170.8 1906.2,1168.7 1907.2,1169.7 1908.3,1169.4 1909.4,1169.6 1910.4,1168.2 1911.5,1168.4 1912.6,1169.9 1913.6,1169.7 1914.7,1170.5 1915.8,1169.5 1916.8,1171.5 1917.9,1168.8 1918.9,1169.6 1920,1167.7 1921.1,1168.3 1922.1,1170.6 1923.2,1168.6 1924.2,1170 1925.3,1169.5 1926.4,1168.6 1927.4,1169.3 1928.5,1169.1 1929.6,1168.8 1930.6,1170.3 1931.7,1170.2 1932.8,1169.2 1933.8,1168.9 1934.9,1170 1935.9,1169.7 1937,1170.7 1938.1,1172.1 1939.1,1171.2 1940.2,1169.8 1941.2,1169.6 1942.3,1169.1 1943.4,1169.1 1944.4,1169.1 1945.5,1169.6 1946.6,1169.6 1947.6,1170.6 1948.7,1169.7 1949.8,1169.9 1950.8,1169 1951.9,1171.5 1952.9,1170.5 1954,1171.6 1955.1,1170.8 1956.1,1171.4 1957.2,1169.9 1958.2,1170.8 1959.3,1172.5 1960.4,1169.2 1961.4,1171.2 1962.5,1171.7 1963.6,1170.6 1964.6,1170.9 1965.7,1171.4 1966.8,1169.7 1967.8,1170.7 1968.9,1169.6 1969.9,1169.8 1971,1169.8 1972.1,1170.3 1973.1,1170.5 1974.2,1170.8 1975.2,1169.2 1976.3,1172.2 1977.4,1171.5 1978.4,1171.1 1979.5,1170.2 1980.6,1170.5 1981.6,1171 1982.7,1170.9 1983.8,1169.1 1984.8,1171.3 1985.9,1173.2 1986.9,1169 1988,1171.5 1989.1,1171 1990.1,1170.6 1991.2,1171.9 1992.2,1169.7 1993.3,1170.9 1994.4,1172.1 1995.4,1170.6 1996.5,1170.4 1997.6,1170.9 1998.6,1170.5 1999.7,1172.2 2000.8,1170.1 2001.8,1171.7 2002.9,1169.8 2003.9,1171.5 2005,1170.9 2006.1,1168.7 2007.1,1171 2008.2,1170 2009.2,1170.4 2010.3,1171.9 2011.4,1169.3 2012.4,1169.2 2013.5,1170.9 2014.6,1169.1 2015.6,1169.6 2016.7,1167.8 2017.8,1166 2018.8,1166.1 2019.9,1167.7 2020.9,1168.2 2022,1168.1 2023.1,1168.9 2024.1,1169.5 2025.2,1169.8 2026.2,1172.7 2027.3,1171.8 2028.4,1171.1 2029.4,1171.8 2030.5,1172.9 2031.6,1172.9 2032.6,1172.4 2033.7,1172 2034.8,1172.7 2035.8,1171.3 2036.9,1170.7 2037.9,1173.7 2039,1172.7 2040.1,1173.5 2041.1,1174.3 2042.2,1173.9 2043.2,1173.5 2044.3,1175.4 2045.4,1174.2 2046.4,1173.5 2047.5,1174.5 2048.6,1174.3 2049.6,1172.7 2050.7,1174.2 2051.8,1174.1 2052.8,1172.7 2053.9,1174.3 2054.9,1174.3 2056,1174.3 2057.1,1173.4 2058.1,1174.6 2059.2,1174.9 2060.2,1175.1 2061.3,1174.2 2062.4,1175.8 2063.4,1173.4 2064.5,1175.5 2065.6,1177.4 2066.6,1176.5 2067.7,1177.3 2068.8,1179.2 2069.8,1178.7 2070.9,1179.4 2071.9,1180.5 2073,1181.8"/>
<g font-family='"Liberation Sans", Arial, sans-serif' font-size="85" fill="#000"><text transform="translate(775.7,784) scale(1,1.04)">O1s</text><text transform="translate(1053.3,934.2) scale(1,1.04)">N1s</text><text transform="translate(1476.6,771) scale(1,1.04)">C1s</text><text transform="translate(1632.8,1030.5) scale(1,1.04)">Si 2s</text><text transform="translate(1852.1,1094.8) scale(1,1.04)">Si 2p</text></g>
<path d="M1226,934.7 L1226.6,929.4 L1227.1,924.2 L1227.6,918.9 L1228,913.6 L1228.4,908.4 L1228.8,903.1 L1229.1,897.8 L1229.4,892.6 L1229.6,887.3 L1229.8,882 L1229.9,876.8 L1230,871.5 L1230,866.2 L1230,861 L1230,855.7 L1229.9,850.4 L1229.7,845.2 L1229.6,839.9 L1229.3,834.6 L1229.1,829.4 L1228.7,824.1 L1228.4,818.8 L1228,813.6 L1227.5,808.3 L1227,803 L1226.5,797.8 L1225.9,792.5 L1225.2,787.2 L1224.5,782 L1223.8,776.7 L1223,771.5 L1222.2,766.2 L1221.3,760.9 L1220.4,755.7 L1219.4,750.4 L1218.4,745.1 L1217.3,739.9 L1216.2,734.6 L1215,729.3 L1213.8,724.1 L1212.5,718.8 L1211.2,713.5 L1209.9,708.3 L1208.4,703 L1207,697.7 L1205.5,692.5 L1203.9,687.2 L1202.3,681.9 L1200.6,676.7 L1198.9,671.4 L1197.1,666.1 L1195.3,660.9 L1193.5,655.6 L1191.5,650.3 L1189.6,645.1 L1187.6,639.8 L1185.5,634.5 L1183.4,629.3 L1181.2,624" fill="none" stroke="#000" stroke-width="11.6" stroke-linejoin="round"/><polygon points="1157.9,580.6 1191.1,618.1 1167.9,628.7" fill="#000" stroke="#000" stroke-width="8" stroke-linejoin="round"/>
<path d="M1230,1091 L1231.6,1083.6 L1233.3,1076.3 L1234.9,1068.9 L1236.6,1061.6 L1238.3,1054.2 L1240,1046.9 L1241.8,1039.5 L1243.6,1032.2 L1245.4,1024.8 L1247.2,1017.4 L1249.1,1010.1 L1251,1002.7 L1252.9,995.4 L1254.9,988 L1256.8,980.7 L1258.9,973.3 L1260.9,965.9 L1263,958.6 L1265.1,951.2 L1267.3,943.9 L1269.4,936.5 L1271.7,929.2 L1273.9,921.8 L1276.2,914.5 L1278.5,907.1 L1280.9,899.7 L1283.3,892.4 L1285.7,885 L1288.2,877.7 L1290.7,870.3 L1293.3,863 L1295.8,855.6 L1298.5,848.3 L1301.2,840.9 L1303.9,833.5 L1306.6,826.2 L1309.4,818.8 L1312.3,811.5 L1315.2,804.1 L1318.1,796.8 L1321.1,789.4 L1324.1,782.1 L1327.2,774.7 L1330.3,767.3 L1333.5,760 L1336.7,752.6 L1339.9,745.3 L1343.3,737.9 L1346.6,730.6 L1350,723.2 L1353.5,715.8 L1357,708.5 L1360.6,701.1 L1364.2,693.8 L1367.9,686.4 L1371.6,679.1 L1375.4,671.7 L1379.2,664.4 L1383.1,657" fill="none" stroke="#000" stroke-width="11.6" stroke-linejoin="round"/><polygon points="1412.1,613.7 1379.1,652.1 1401.3,662.6" fill="#000" stroke="#000" stroke-width="8" stroke-linejoin="round"/>
<g fill="#0000ff"><rect x="497" y="49.8" width="632.7" height="7.4"/><rect x="503.1" y="53.5" width="7" height="508"/><rect x="1123.1" y="53.5" width="6.6" height="506.5"/><rect x="501.1" y="552" width="628.6" height="8"/><rect x="496.6" y="506.9" width="10" height="7.4"/><rect x="501.8" y="461.6" width="4.8" height="6.6"/><rect x="496.6" y="415.5" width="10" height="7.4"/><rect x="501.8" y="370.1" width="4.8" height="6.6"/><rect x="496.6" y="324" width="10" height="7.4"/><rect x="501.8" y="278.7" width="4.8" height="6.6"/><rect x="496.6" y="232.6" width="10" height="7.4"/><rect x="501.8" y="187.3" width="4.8" height="6.6"/><rect x="496.6" y="141.1" width="10" height="7.4"/><rect x="501.8" y="95.8" width="4.8" height="6.6"/><rect x="565.1" y="556" width="7.4" height="11"/><rect x="627.4" y="556" width="6.8" height="6"/><rect x="689" y="556" width="7.4" height="11"/><rect x="751.2" y="556" width="6.8" height="6"/><rect x="812.9" y="556" width="7.4" height="11"/><rect x="875.1" y="556" width="6.8" height="6"/><rect x="936.8" y="556" width="7.4" height="11"/><rect x="999.1" y="556" width="6.8" height="6"/><rect x="1060.7" y="556" width="7.4" height="11"/></g><g font-family='"Liberation Sans", Arial, sans-serif' font-size="21.5" fill="#0000ff" stroke="#0000ff" stroke-width="0.3"><text transform="translate(490.8,517.5) scale(0.92,1.04)" text-anchor="end">0</text><text transform="translate(490.8,426.1) scale(0.92,1.04)" text-anchor="end">200</text><text transform="translate(490.8,334.6) scale(0.92,1.04)" text-anchor="end">400</text><text transform="translate(490.8,243.2) scale(0.92,1.04)" text-anchor="end">600</text><text transform="translate(490.8,151.7) scale(0.92,1.04)" text-anchor="end">800</text><text transform="translate(490.8,60.3) scale(0.92,1.04)" text-anchor="end">1000</text><text transform="translate(568.8,590.2) scale(0.92,1.04)" text-anchor="middle">380</text><text transform="translate(692.7,590.2) scale(0.92,1.04)" text-anchor="middle">390</text><text transform="translate(816.6,590.2) scale(0.92,1.04)" text-anchor="middle">400</text><text transform="translate(940.5,590.2) scale(0.92,1.04)" text-anchor="middle">410</text><text transform="translate(1064.4,590.2) scale(0.92,1.04)" text-anchor="middle">420</text></g><text transform="translate(817.3,638) scale(0.9035,1.054)" text-anchor="middle" font-family='"Liberation Sans", Arial, sans-serif' font-size="34.2" fill="#000">Binding Energy / eV</text><text transform="translate(410.1,301.5) rotate(-90) scale(1,0.945)" text-anchor="middle" font-family='"Liberation Sans", Arial, sans-serif' font-size="33.8" fill="#000">Intensity</text><polyline fill="none" stroke="#000" stroke-width="3.6" stroke-linejoin="miter" stroke-miterlimit="2.5" points="568.8,510.4 575,505.8 581.2,511.7 587.4,482.9 593.6,516.7 599.8,519.7 606,500.4 612.2,531.6 618.4,538.2 624.6,524.7 630.8,511.1 636.9,497.8 643.1,513.7 649.3,516.7 655.5,523.1 661.7,525.7 667.9,535.2 674.1,479.5 680.3,488.9 686.5,532.6 692.7,482.9 698.9,454.7 705.1,471.4 711.3,459 717.5,448.1 723.7,488.9 729.9,488.9 736.1,475.9 742.3,460.6 748.5,486.9 754.6,510.8 760.8,494.8 767,482.9 773.2,463.4 779.4,471 785.6,448.8 791.8,466.5 798,414.8 804.2,332.2 810.4,233.4 816.6,158.2 822.8,127 829,159.3 835.2,227.9 841.4,323.4 847.6,410.8 853.8,501.7 860,497.4 866.2,481 872.4,464.5 878.5,506.3 884.7,481.5 890.9,471.5 897.1,506.3 903.3,491.4 909.5,518.3 915.7,471.5 921.9,501.3 928.1,463.5 934.3,463.5 940.5,495 946.7,495 952.9,448 959.1,480.5 965.3,459.6 971.5,518.3 977.7,490.4 983.9,512.3 990.1,522.8 996.3,516.3 1002.5,489.4 1008.6,458 1014.8,458 1021,465.5 1027.2,488.4 1033.4,484.4 1039.6,513.3 1045.8,485.4 1052,499.4 1058.2,475 1064.4,542.7"/><polyline fill="none" stroke="#ff0000" stroke-width="3.5" stroke-linejoin="round" points="568,493 569,493 570,493 571,493 572,493 573,493 574,493 575,493 576,493 577,493 578,493 579,493 580,493 581,493 582,493 583,493 584,493 585,493 586,493 587,493 588,493 589,493 590,493 591,493 592,493 593,493 594,493 595,493 596,493 597,493 598,493 599,493 600,493 601,493 602,493 603,493 604,493 605,493 606,493 607,493 608,493 609,493 610,493 611,493 612,493 613,493 614,493 615,493 616,493 617,493 618,493 619,493 620,493 621,493 622,493 623,493 624,493 625,493 626,493 627,493 628,493 629,493 630,493 631,493 632,493 633,493 634,493 635,493 636,493 637,493 638,493 639,493 640,493 641,493 642,493 643,493 644,493 645,493 646,493 647,493 648,493 649,493 650,493 651,493 652,493 653,493 654,493 655,493 656,493 657,493 658,493 659,493 660,493 661,493 662,493 663,493 664,493 665,493 666,493 667,493 668,493 669,493 670,493 671,493 672,493 673,493 674,493 675,493 676,493 677,493 678,493 679,493 680,493 681,493 682,493 683,493 684,493 685,493 686,493 687,493 688,493 689,493 690,493 691,493 692,493 693,493 694,493 695,493 696,493 697,493 698,493 699,493 700,493 701,493 702,493 703,493 704,493 705,493 706,493 707,493 708,493 709,493 710,493 711,493 712,493 713,493 714,493 715,493 716,493 717,493 718,493 719,493 720,493 721,493 722,493 723,493 724,493 725,493 726,493 727,493 728,493 729,493 730,493 731,493 732,493 733,493 734,493 735,493 736,493 737,493 738,493 739,493 740,493 741,493 742,493 743,493 744,493 745,493 746,493 747,493 748,493 749,493 750,493 751,493 752,493 753,493 754,493 755,493 756,493 757,493 758,493 759,493 760,493 761,493 762,493 763,493 764,493 765,493 766,493 767,493 768,492.9 769,492.9 770,492.9 771,492.8 772,492.8 773,492.7 774,492.6 775,492.4 776,492.2 777,492 778,491.6 779,491.2 780,490.7 781,490 782,489.1 783,488 784,486.7 785,485 786,483 787,480.6 788,477.8 789,474.4 790,470.3 791,465.7 792,460.2 793,454 794,447 795,439 796,430.1 797,420.2 798,409.4 799,397.7 800,385.1 801,371.7 802,357.5 803,342.8 804,327.7 805,312.3 806,296.9 807,281.6 808,266.8 809,252.7 810,239.4 811,227.3 812,216.6 813,207.5 814,200.1 815,194.7 816,191.3 817,190 818,190.9 819,193.8 820,198.9 821,205.8 822,214.6 823,225 824,236.9 825,249.9 826,263.9 827,278.6 828,293.8 829,309.2 830,324.6 831,339.8 832,354.6 833,368.9 834,382.5 835,395.2 836,407.2 837,418.1 838,428.2 839,437.3 840,445.4 841,452.7 842,459.1 843,464.6 844,469.5 845,473.6 846,477.1 847,480.1 848,482.6 849,484.7 850,486.4 851,487.8 852,488.9 853,489.8 854,490.5 855,491.1 856,491.6 857,491.9 858,492.2 859,492.4 860,492.5 861,492.7 862,492.8 863,492.8 864,492.9 865,492.9 866,492.9 867,493 868,493 869,493 870,493 871,493 872,493 873,493 874,493 875,493 876,493 877,493 878,493 879,493 880,493 881,493 882,493 883,493 884,493 885,493 886,493 887,493 888,493 889,493 890,493 891,493 892,493 893,493 894,493 895,493 896,493 897,493 898,493 899,493 900,493 901,493 902,493 903,493 904,493 905,493 906,493 907,493 908,493 909,493 910,493 911,493 912,493 913,493 914,493 915,493 916,493 917,493 918,493 919,493 920,493 921,493 922,493 923,493 924,493 925,493 926,493 927,493 928,493 929,493 930,493 931,493 932,493 933,493 934,493 935,493 936,493 937,493 938,493 939,493 940,493 941,493 942,493 943,493 944,493 945,493 946,493 947,493 948,493 949,493 950,493 951,493 952,493 953,493 954,493 955,493 956,493 957,493 958,493 959,493 960,493 961,493 962,493 963,493 964,493 965,493 966,493 967,493 968,493 969,493 970,493 971,493 972,493 973,493 974,493 975,493 976,493 977,493 978,493 979,493 980,493 981,493 982,493 983,493 984,493 985,493 986,493 987,493 988,493 989,493 990,493 991,493 992,493 993,493 994,493 995,493 996,493 997,493 998,493 999,493 1000,493 1001,493 1002,493 1003,493 1004,493 1005,493 1006,493 1007,493 1008,493 1009,493 1010,493 1011,493 1012,493 1013,493 1014,493 1015,493 1016,493 1017,493 1018,493 1019,493 1020,493 1021,493 1022,493 1023,493 1024,493 1025,493 1026,493 1027,493 1028,493 1029,493 1030,493 1031,493 1032,493 1033,493 1034,493 1035,493 1036,493 1037,493 1038,493 1039,493 1040,493 1041,493 1042,493 1043,493 1044,493 1045,493 1046,493 1047,493 1048,493 1049,493 1050,493 1051,493 1052,493 1053,493 1054,493 1055,493 1056,493 1057,493 1058,493 1059,493 1060,493 1061,493 1062,493 1063,493 1064,493 1065,493"/><polyline fill="none" stroke="#00ff00" stroke-width="3.5" stroke-linejoin="round" points="568,493 569,493 570,493 571,493 572,493 573,493 574,493 575,493 576,493 577,493 578,493 579,493 580,493 581,493 582,493 583,493 584,493 585,493 586,493 587,493 588,493 589,493 590,493 591,493 592,493 593,493 594,493 595,493 596,493 597,493 598,493 599,493 600,493 601,493 602,493 603,493 604,493 605,493 606,493 607,493 608,493 609,493 610,493 611,493 612,493 613,493 614,493 615,493 616,493 617,493 618,493 619,493 620,493 621,493 622,493 623,493 624,493 625,493 626,493 627,493 628,493 629,493 630,493 631,493 632,493 633,493 634,493 635,493 636,493 637,493 638,493 639,493 640,493 641,493 642,493 643,493 644,493 645,493 646,493 647,493 648,493 649,493 650,493 651,493 652,493 653,493 654,493 655,493 656,493 657,493 658,493 659,493 660,493 661,493 662,493 663,493 664,493 665,493 666,493 667,493 668,493 669,493 670,493 671,493 672,493 673,493 674,493 675,493 676,493 677,493 678,493 679,493 680,493 681,493 682,493 683,493 684,493 685,493 686,493 687,493 688,493 689,493 690,493 691,493 692,493 693,493 694,493 695,493 696,493 697,493 698,493 699,493 700,493 701,493 702,493 703,493 704,493 705,493 706,493 707,493 708,493 709,493 710,493 711,493 712,493 713,493 714,493 715,493 716,493 717,493 718,493 719,493 720,493 721,493 722,493 723,493 724,493 725,493 726,493 727,493 728,493 729,493 730,493 731,493 732,493 733,493 734,493 735,493 736,493 737,493 738,493 739,493 740,493 741,493 742,493 743,493 744,493 745,493 746,493 747,493 748,493 749,493 750,493 751,493 752,493 753,493 754,493 755,493 756,493 757,493 758,493 759,493 760,493 761,493 762,493 763,493 764,493 765,493 766,493 767,493 768,493 769,493 770,493 771,493 772,493 773,493 774,493 775,493 776,493 777,493 778,493 779,493 780,493 781,493 782,493 783,493 784,493 785,493 786,493 787,493 788,493 789,493 790,493 791,493 792,493 793,493 794,492.9 795,492.9 796,492.9 797,492.8 798,492.8 799,492.7 800,492.5 801,492.3 802,492.1 803,491.7 804,491.3 805,490.7 806,489.9 807,488.9 808,487.6 809,486 810,484.1 811,481.7 812,478.8 813,475.4 814,471.3 815,466.6 816,461.2 817,455.2 818,448.4 819,440.9 820,432.7 821,424 822,414.9 823,405.5 824,395.9 825,386.3 826,377 827,368.1 828,360 829,352.7 830,346.6 831,341.7 832,338.3 833,336.4 834,336.1 835,337.3 836,340.2 837,344.5 838,350.1 839,357 840,364.8 841,373.4 842,382.5 843,392 844,401.6 845,411.2 846,420.4 847,429.3 848,437.7 849,445.4 850,452.5 851,458.9 852,464.6 853,469.5 854,473.8 855,477.5 856,480.6 857,483.2 858,485.3 859,487 860,488.4 861,489.5 862,490.4 863,491 864,491.5 865,491.9 866,492.2 867,492.5 868,492.6 869,492.7 870,492.8 871,492.9 872,492.9 873,492.9 874,493 875,493 876,493 877,493 878,493 879,493 880,493 881,493 882,493 883,493 884,493 885,493 886,493 887,493 888,493 889,493 890,493 891,493 892,493 893,493 894,493 895,493 896,493 897,493 898,493 899,493 900,493 901,493 902,493 903,493 904,493 905,493 906,493 907,493 908,493 909,493 910,493 911,493 912,493 913,493 914,493 915,493 916,493 917,493 918,493 919,493 920,493 921,493 922,493 923,493 924,493 925,493 926,493 927,493 928,493 929,493 930,493 931,493 932,493 933,493 934,493 935,493 936,493 937,493 938,493 939,493 940,493 941,493 942,493 943,493 944,493 945,493 946,493 947,493 948,493 949,493 950,493 951,493 952,493 953,493 954,493 955,493 956,493 957,493 958,493 959,493 960,493 961,493 962,493 963,493 964,493 965,493 966,493 967,493 968,493 969,493 970,493 971,493 972,493 973,493 974,493 975,493 976,493 977,493 978,493 979,493 980,493 981,493 982,493 983,493 984,493 985,493 986,493 987,493 988,493 989,493 990,493 991,493 992,493 993,493 994,493 995,493 996,493 997,493 998,493 999,493 1000,493 1001,493 1002,493 1003,493 1004,493 1005,493 1006,493 1007,493 1008,493 1009,493 1010,493 1011,493 1012,493 1013,493 1014,493 1015,493 1016,493 1017,493 1018,493 1019,493 1020,493 1021,493 1022,493 1023,493 1024,493 1025,493 1026,493 1027,493 1028,493 1029,493 1030,493 1031,493 1032,493 1033,493 1034,493 1035,493 1036,493 1037,493 1038,493 1039,493 1040,493 1041,493 1042,493 1043,493 1044,493 1045,493 1046,493 1047,493 1048,493 1049,493 1050,493 1051,493 1052,493 1053,493 1054,493 1055,493 1056,493 1057,493 1058,493 1059,493 1060,493 1061,493 1062,493 1063,493 1064,493 1065,493"/><polyline fill="none" stroke="#0000ff" stroke-width="4.2" stroke-linejoin="round" points="568,493 569,493 570,493 571,493 572,493 573,493 574,493 575,493 576,493 577,493 578,493 579,493 580,493 581,493 582,493 583,493 584,493 585,493 586,493 587,493 588,493 589,493 590,493 591,493 592,493 593,493 594,493 595,493 596,493 597,493 598,493 599,493 600,493 601,493 602,493 603,493 604,493 605,493 606,493 607,493 608,493 609,493 610,493 611,493 612,493 613,493 614,493 615,493 616,493 617,493 618,493 619,493 620,493 621,493 622,493 623,493 624,493 625,493 626,493 627,493 628,493 629,493 630,493 631,493 632,493 633,493 634,493 635,493 636,493 637,493 638,493 639,493 640,493 641,493 642,493 643,493 644,493 645,493 646,493 647,493 648,493 649,493 650,493 651,493 652,493 653,493 654,493 655,493 656,493 657,493 658,493 659,493 660,493 661,493 662,493 663,493 664,493 665,493 666,493 667,493 668,493 669,493 670,493 671,493 672,493 673,493 674,493 675,493 676,493 677,493 678,493 679,493 680,493 681,493 682,493 683,493 684,493 685,493 686,493 687,493 688,493 689,493 690,493 691,493 692,493 693,493 694,493 695,493 696,493 697,493 698,493 699,493 700,493 701,493 702,493 703,493 704,493 705,493 706,493 707,493 708,493 709,493 710,493 711,493 712,493 713,493 714,493 715,493 716,493 717,493 718,493 719,493 720,493 721,493 722,493 723,493 724,493 725,493 726,493 727,493 728,493 729,493 730,493 731,493 732,493 733,493 734,493 735,493 736,493 737,493 738,493 739,493 740,493 741,493 742,493 743,493 744,493 745,493 746,493 747,493 748,493 749,493 750,493 751,493 752,493 753,493 754,493 755,493 756,493 757,493 758,493 759,493 760,493 761,493 762,493 763,493 764,493 765,493 766,493 767,493 768,492.9 769,492.9 770,492.9 771,492.8 772,492.8 773,492.7 774,492.6 775,492.4 776,492.2 777,492 778,491.6 779,491.2 780,490.7 781,490 782,489.1 783,488 784,486.7 785,485 786,483 787,480.6 788,477.8 789,474.3 790,470.3 791,465.6 792,460.2 793,454 794,446.9 795,438.9 796,430 797,420.1 798,409.2 799,397.4 800,384.6 801,371 802,356.6 803,341.5 804,325.9 805,310 806,293.8 807,277.5 808,261.4 809,245.7 810,230.5 811,216 812,202.4 813,189.8 814,178.4 815,168.3 816,159.5 817,152.2 818,146.2 819,141.7 820,138.6 821,136.9 822,136.5 823,137.5 824,139.7 825,143.2 826,147.9 827,153.8 828,160.8 829,169 830,178.2 831,188.6 832,199.9 833,212.3 834,225.5 835,239.6 836,254.3 837,269.6 838,285.3 839,301.2 840,317.2 841,333.1 842,348.6 843,363.6 844,378.1 845,391.8 846,404.6 847,416.4 848,427.3 849,437.1 850,445.9 851,453.7 852,460.5 853,466.3 854,471.3 855,475.6 856,479.1 857,482.1 858,484.5 859,486.4 860,487.9 861,489.2 862,490.1 863,490.9 864,491.4 865,491.8 866,492.2 867,492.4 868,492.6 869,492.7 870,492.8 871,492.9 872,492.9 873,492.9 874,493 875,493 876,493 877,493 878,493 879,493 880,493 881,493 882,493 883,493 884,493 885,493 886,493 887,493 888,493 889,493 890,493 891,493 892,493 893,493 894,493 895,493 896,493 897,493 898,493 899,493 900,493 901,493 902,493 903,493 904,493 905,493 906,493 907,493 908,493 909,493 910,493 911,493 912,493 913,493 914,493 915,493 916,493 917,493 918,493 919,493 920,493 921,493 922,493 923,493 924,493 925,493 926,493 927,493 928,493 929,493 930,493 931,493 932,493 933,493 934,493 935,493 936,493 937,493 938,493 939,493 940,493 941,493 942,493 943,493 944,493 945,493 946,493 947,493 948,493 949,493 950,493 951,493 952,493 953,493 954,493 955,493 956,493 957,493 958,493 959,493 960,493 961,493 962,493 963,493 964,493 965,493 966,493 967,493 968,493 969,493 970,493 971,493 972,493 973,493 974,493 975,493 976,493 977,493 978,493 979,493 980,493 981,493 982,493 983,493 984,493 985,493 986,493 987,493 988,493 989,493 990,493 991,493 992,493 993,493 994,493 995,493 996,493 997,493 998,493 999,493 1000,493 1001,493 1002,493 1003,493 1004,493 1005,493 1006,493 1007,493 1008,493 1009,493 1010,493 1011,493 1012,493 1013,493 1014,493 1015,493 1016,493 1017,493 1018,493 1019,493 1020,493 1021,493 1022,493 1023,493 1024,493 1025,493 1026,493 1027,493 1028,493 1029,493 1030,493 1031,493 1032,493 1033,493 1034,493 1035,493 1036,493 1037,493 1038,493 1039,493 1040,493 1041,493 1042,493 1043,493 1044,493 1045,493 1046,493 1047,493 1048,493 1049,493 1050,493 1051,493 1052,493 1053,493 1054,493 1055,493 1056,493 1057,493 1058,493 1059,493 1060,493 1061,493 1062,493 1063,493 1064,493 1065,493"/>
<g fill="#ff0000"><rect x="1422.3" y="35.9" width="598" height="8.2"/><rect x="1424.1" y="40" width="7" height="534.5"/><rect x="2016.7" y="40" width="6.6" height="533"/><rect x="1422.1" y="565" width="601.2" height="8"/><rect x="1417.6" y="521.3" width="10" height="7.4"/><rect x="1422.8" y="477.6" width="4.8" height="6.6"/><rect x="1417.6" y="433.2" width="10" height="7.4"/><rect x="1422.8" y="389.6" width="4.8" height="6.6"/><rect x="1417.6" y="345.1" width="10" height="7.4"/><rect x="1422.8" y="301.4" width="4.8" height="6.6"/><rect x="1417.6" y="257" width="10" height="7.4"/><rect x="1422.8" y="213.3" width="4.8" height="6.6"/><rect x="1417.6" y="168.9" width="10" height="7.4"/><rect x="1422.8" y="125.3" width="4.8" height="6.6"/><rect x="1417.6" y="80.8" width="10" height="7.4"/><rect x="1483" y="569" width="7.4" height="11"/><rect x="1542.5" y="569" width="6.8" height="6"/><rect x="1601.5" y="569" width="7.4" height="11"/><rect x="1661" y="569" width="6.8" height="6"/><rect x="1720" y="569" width="7.4" height="11"/><rect x="1779.5" y="569" width="6.8" height="6"/><rect x="1838.5" y="569" width="7.4" height="11"/><rect x="1898" y="569" width="6.8" height="6"/><rect x="1957" y="569" width="7.4" height="11"/></g><g font-family='"Liberation Sans", Arial, sans-serif' font-size="21.5" fill="#ff0000" stroke="#ff0000" stroke-width="0.3"><text transform="translate(1412.8,532.6) scale(0.893,1.113)" text-anchor="end">0</text><text transform="translate(1412.8,444.5) scale(0.893,1.113)" text-anchor="end">200</text><text transform="translate(1412.8,356.4) scale(0.893,1.113)" text-anchor="end">400</text><text transform="translate(1412.8,268.3) scale(0.893,1.113)" text-anchor="end">600</text><text transform="translate(1412.8,180.2) scale(0.893,1.113)" text-anchor="end">800</text><text transform="translate(1412.8,92.1) scale(0.893,1.113)" text-anchor="end">1000</text><text transform="translate(1486.7,603.6) scale(0.893,1.113)" text-anchor="middle">380</text><text transform="translate(1605.2,603.6) scale(0.893,1.113)" text-anchor="middle">390</text><text transform="translate(1723.7,603.6) scale(0.893,1.113)" text-anchor="middle">400</text><text transform="translate(1842.2,603.6) scale(0.893,1.113)" text-anchor="middle">410</text><text transform="translate(1960.7,603.6) scale(0.893,1.113)" text-anchor="middle">420</text></g><text transform="translate(1724,654.9) scale(0.86,1.092)" text-anchor="middle" font-family='"Liberation Sans", Arial, sans-serif' font-size="34.2" fill="#000">Binding Energy / eV</text><text transform="translate(1335.1,301) rotate(-90) scale(1,0.863)" text-anchor="middle" font-family='"Liberation Sans", Arial, sans-serif' font-size="35.7" fill="#000">Intensity</text><polyline fill="none" stroke="#000" stroke-width="3.6" stroke-linejoin="miter" stroke-miterlimit="2.5" points="1486.7,524.4 1492.6,493.4 1498.5,494.5 1504.5,524.4 1510.4,521.2 1516.3,508.9 1522.2,496 1528.2,528.8 1534.1,528.4 1540,503.9 1546,523.8 1551.9,528.8 1557.8,550.2 1563.7,536.7 1569.7,505.9 1575.6,546.3 1581.5,496.9 1587.4,525.8 1593.4,504.5 1599.3,526.8 1605.2,524.8 1611.1,495.3 1617,503.9 1623,465.5 1628.9,503.3 1634.8,507.9 1640.8,517.2 1646.7,523.8 1652.6,523.8 1658.5,541.1 1664.5,517.5 1670.4,504.6 1676.3,527 1682.2,521 1688.2,509 1694.1,488 1700,466 1705.9,418.7 1711.9,322.4 1717.8,214.2 1723.7,117 1729.6,175.1 1735.5,268.5 1741.5,371.4 1747.4,431.1 1753.3,429.1 1759.2,381.2 1765.2,313 1771.1,329.5 1777,378.1 1783,441.2 1788.9,491.5 1794.8,493.1 1800.7,494.5 1806.7,526.3 1812.6,524.9 1818.5,505.4 1824.4,525.7 1830.3,510.4 1836.3,526.3 1842.2,485.5 1848.1,501.5 1854,517.4 1860,497.5 1865.9,495.5 1871.8,523.3 1877.8,502.6 1883.7,482 1889.6,521.7 1895.5,508.4 1901.5,530.3 1907.4,526.3 1913.3,496.5 1919.2,521.7 1925.2,513 1931.1,540.2 1937,536.3 1942.9,509 1948.8,482 1954.8,503.8 1960.7,525.7 1966.6,524.3"/><polyline fill="none" stroke="#ff0000" stroke-width="3.5" stroke-linejoin="round" points="1486,514.2 1487,514.2 1488,514.2 1489,514.2 1490,514.2 1491,514.2 1492,514.2 1493,514.2 1494,514.2 1495,514.2 1496,514.2 1497,514.2 1498,514.2 1499,514.2 1500,514.2 1501,514.2 1502,514.2 1503,514.2 1504,514.2 1505,514.2 1506,514.2 1507,514.2 1508,514.2 1509,514.2 1510,514.2 1511,514.2 1512,514.2 1513,514.2 1514,514.2 1515,514.2 1516,514.2 1517,514.2 1518,514.2 1519,514.2 1520,514.2 1521,514.2 1522,514.2 1523,514.2 1524,514.2 1525,514.2 1526,514.2 1527,514.2 1528,514.2 1529,514.2 1530,514.2 1531,514.2 1532,514.2 1533,514.2 1534,514.2 1535,514.2 1536,514.2 1537,514.2 1538,514.2 1539,514.2 1540,514.2 1541,514.2 1542,514.2 1543,514.2 1544,514.2 1545,514.2 1546,514.2 1547,514.2 1548,514.2 1549,514.2 1550,514.2 1551,514.2 1552,514.2 1553,514.2 1554,514.2 1555,514.2 1556,514.2 1557,514.2 1558,514.2 1559,514.2 1560,514.2 1561,514.2 1562,514.2 1563,514.2 1564,514.2 1565,514.2 1566,514.2 1567,514.2 1568,514.2 1569,514.2 1570,514.2 1571,514.2 1572,514.2 1573,514.2 1574,514.2 1575,514.2 1576,514.2 1577,514.2 1578,514.2 1579,514.2 1580,514.2 1581,514.2 1582,514.2 1583,514.2 1584,514.2 1585,514.2 1586,514.2 1587,514.2 1588,514.2 1589,514.2 1590,514.2 1591,514.2 1592,514.2 1593,514.2 1594,514.2 1595,514.2 1596,514.2 1597,514.2 1598,514.2 1599,514.2 1600,514.2 1601,514.2 1602,514.2 1603,514.2 1604,514.2 1605,514.2 1606,514.2 1607,514.2 1608,514.2 1609,514.2 1610,514.2 1611,514.2 1612,514.2 1613,514.2 1614,514.2 1615,514.2 1616,514.2 1617,514.2 1618,514.2 1619,514.2 1620,514.2 1621,514.2 1622,514.2 1623,514.2 1624,514.2 1625,514.2 1626,514.2 1627,514.2 1628,514.2 1629,514.2 1630,514.2 1631,514.2 1632,514.2 1633,514.2 1634,514.2 1635,514.2 1636,514.2 1637,514.2 1638,514.2 1639,514.2 1640,514.2 1641,514.2 1642,514.2 1643,514.2 1644,514.2 1645,514.2 1646,514.2 1647,514.2 1648,514.2 1649,514.2 1650,514.2 1651,514.2 1652,514.2 1653,514.2 1654,514.2 1655,514.2 1656,514.2 1657,514.2 1658,514.2 1659,514.2 1660,514.2 1661,514.2 1662,514.2 1663,514.2 1664,514.2 1665,514.2 1666,514.2 1667,514.2 1668,514.2 1669,514.2 1670,514.2 1671,514.2 1672,514.2 1673,514.2 1674,514.2 1675,514.2 1676,514.2 1677,514.1 1678,514.1 1679,514.1 1680,514 1681,513.9 1682,513.8 1683,513.7 1684,513.5 1685,513.3 1686,513 1687,512.6 1688,512 1689,511.3 1690,510.5 1691,509.4 1692,508 1693,506.3 1694,504.2 1695,501.7 1696,498.6 1697,494.9 1698,490.5 1699,485.4 1700,479.3 1701,472.3 1702,464.3 1703,455.2 1704,444.9 1705,433.4 1706,420.7 1707,406.9 1708,391.9 1709,375.8 1710,358.8 1711,341 1712,322.6 1713,303.8 1714,284.9 1715,266.1 1716,247.7 1717,230.1 1718,213.6 1719,198.5 1720,185.1 1721,173.7 1722,164.4 1723,157.6 1724,153.3 1725,151.7 1726,152.8 1727,156.5 1728,162.9 1729,171.6 1730,182.6 1731,195.7 1732,210.5 1733,226.7 1734,244.1 1735,262.3 1736,281.1 1737,300 1738,318.9 1739,337.4 1740,355.3 1741,372.5 1742,388.8 1743,404 1744,418.1 1745,431 1746,442.7 1747,453.2 1748,462.6 1749,470.8 1750,478 1751,484.2 1752,489.6 1753,494.1 1754,497.9 1755,501.1 1756,503.8 1757,505.9 1758,507.7 1759,509.1 1760,510.3 1761,511.2 1762,511.9 1763,512.5 1764,512.9 1765,513.2 1766,513.5 1767,513.7 1768,513.8 1769,513.9 1770,514 1771,514.1 1772,514.1 1773,514.1 1774,514.1 1775,514.2 1776,514.2 1777,514.2 1778,514.2 1779,514.2 1780,514.2 1781,514.2 1782,514.2 1783,514.2 1784,514.2 1785,514.2 1786,514.2 1787,514.2 1788,514.2 1789,514.2 1790,514.2 1791,514.2 1792,514.2 1793,514.2 1794,514.2 1795,514.2 1796,514.2 1797,514.2 1798,514.2 1799,514.2 1800,514.2 1801,514.2 1802,514.2 1803,514.2 1804,514.2 1805,514.2 1806,514.2 1807,514.2 1808,514.2 1809,514.2 1810,514.2 1811,514.2 1812,514.2 1813,514.2 1814,514.2 1815,514.2 1816,514.2 1817,514.2 1818,514.2 1819,514.2 1820,514.2 1821,514.2 1822,514.2 1823,514.2 1824,514.2 1825,514.2 1826,514.2 1827,514.2 1828,514.2 1829,514.2 1830,514.2 1831,514.2 1832,514.2 1833,514.2 1834,514.2 1835,514.2 1836,514.2 1837,514.2 1838,514.2 1839,514.2 1840,514.2 1841,514.2 1842,514.2 1843,514.2 1844,514.2 1845,514.2 1846,514.2 1847,514.2 1848,514.2 1849,514.2 1850,514.2 1851,514.2 1852,514.2 1853,514.2 1854,514.2 1855,514.2 1856,514.2 1857,514.2 1858,514.2 1859,514.2 1860,514.2 1861,514.2 1862,514.2 1863,514.2 1864,514.2 1865,514.2 1866,514.2 1867,514.2 1868,514.2 1869,514.2 1870,514.2 1871,514.2 1872,514.2 1873,514.2 1874,514.2 1875,514.2 1876,514.2 1877,514.2 1878,514.2 1879,514.2 1880,514.2 1881,514.2 1882,514.2 1883,514.2 1884,514.2 1885,514.2 1886,514.2 1887,514.2 1888,514.2 1889,514.2 1890,514.2 1891,514.2 1892,514.2 1893,514.2 1894,514.2 1895,514.2 1896,514.2 1897,514.2 1898,514.2 1899,514.2 1900,514.2 1901,514.2 1902,514.2 1903,514.2 1904,514.2 1905,514.2 1906,514.2 1907,514.2 1908,514.2 1909,514.2 1910,514.2 1911,514.2 1912,514.2 1913,514.2 1914,514.2 1915,514.2 1916,514.2 1917,514.2 1918,514.2 1919,514.2 1920,514.2 1921,514.2 1922,514.2 1923,514.2 1924,514.2 1925,514.2 1926,514.2 1927,514.2 1928,514.2 1929,514.2 1930,514.2 1931,514.2 1932,514.2 1933,514.2 1934,514.2 1935,514.2 1936,514.2 1937,514.2 1938,514.2 1939,514.2 1940,514.2 1941,514.2 1942,514.2 1943,514.2 1944,514.2 1945,514.2 1946,514.2 1947,514.2 1948,514.2 1949,514.2 1950,514.2 1951,514.2 1952,514.2 1953,514.2 1954,514.2 1955,514.2 1956,514.2 1957,514.2 1958,514.2 1959,514.2 1960,514.2 1961,514.2 1962,514.2 1963,514.2 1964,514.2 1965,514.2 1966,514.2 1967,514.2"/><polyline fill="none" stroke="#00ff00" stroke-width="3.5" stroke-linejoin="round" points="1486,514.2 1487,514.2 1488,514.2 1489,514.2 1490,514.2 1491,514.2 1492,514.2 1493,514.2 1494,514.2 1495,514.2 1496,514.2 1497,514.2 1498,514.2 1499,514.2 1500,514.2 1501,514.2 1502,514.2 1503,514.2 1504,514.2 1505,514.2 1506,514.2 1507,514.2 1508,514.2 1509,514.2 1510,514.2 1511,514.2 1512,514.2 1513,514.2 1514,514.2 1515,514.2 1516,514.2 1517,514.2 1518,514.2 1519,514.2 1520,514.2 1521,514.2 1522,514.2 1523,514.2 1524,514.2 1525,514.2 1526,514.2 1527,514.2 1528,514.2 1529,514.2 1530,514.2 1531,514.2 1532,514.2 1533,514.2 1534,514.2 1535,514.2 1536,514.2 1537,514.2 1538,514.2 1539,514.2 1540,514.2 1541,514.2 1542,514.2 1543,514.2 1544,514.2 1545,514.2 1546,514.2 1547,514.2 1548,514.2 1549,514.2 1550,514.2 1551,514.2 1552,514.2 1553,514.2 1554,514.2 1555,514.2 1556,514.2 1557,514.2 1558,514.2 1559,514.2 1560,514.2 1561,514.2 1562,514.2 1563,514.2 1564,514.2 1565,514.2 1566,514.2 1567,514.2 1568,514.2 1569,514.2 1570,514.2 1571,514.2 1572,514.2 1573,514.2 1574,514.2 1575,514.2 1576,514.2 1577,514.2 1578,514.2 1579,514.2 1580,514.2 1581,514.2 1582,514.2 1583,514.2 1584,514.2 1585,514.2 1586,514.2 1587,514.2 1588,514.2 1589,514.2 1590,514.2 1591,514.2 1592,514.2 1593,514.2 1594,514.2 1595,514.2 1596,514.2 1597,514.2 1598,514.2 1599,514.2 1600,514.2 1601,514.2 1602,514.2 1603,514.2 1604,514.2 1605,514.2 1606,514.2 1607,514.2 1608,514.2 1609,514.2 1610,514.2 1611,514.2 1612,514.2 1613,514.2 1614,514.2 1615,514.2 1616,514.2 1617,514.2 1618,514.2 1619,514.2 1620,514.2 1621,514.2 1622,514.2 1623,514.2 1624,514.2 1625,514.2 1626,514.2 1627,514.2 1628,514.2 1629,514.2 1630,514.2 1631,514.2 1632,514.2 1633,514.2 1634,514.2 1635,514.2 1636,514.2 1637,514.2 1638,514.2 1639,514.2 1640,514.2 1641,514.2 1642,514.2 1643,514.2 1644,514.2 1645,514.2 1646,514.2 1647,514.2 1648,514.2 1649,514.2 1650,514.2 1651,514.2 1652,514.2 1653,514.2 1654,514.2 1655,514.2 1656,514.2 1657,514.2 1658,514.2 1659,514.2 1660,514.2 1661,514.2 1662,514.2 1663,514.2 1664,514.2 1665,514.2 1666,514.2 1667,514.2 1668,514.2 1669,514.2 1670,514.2 1671,514.2 1672,514.2 1673,514.2 1674,514.2 1675,514.2 1676,514.2 1677,514.2 1678,514.2 1679,514.2 1680,514.2 1681,514.2 1682,514.2 1683,514.2 1684,514.2 1685,514.2 1686,514.2 1687,514.2 1688,514.2 1689,514.2 1690,514.2 1691,514.2 1692,514.2 1693,514.2 1694,514.2 1695,514.2 1696,514.2 1697,514.2 1698,514.2 1699,514.2 1700,514.2 1701,514.2 1702,514.2 1703,514.2 1704,514.2 1705,514.2 1706,514.2 1707,514.2 1708,514.2 1709,514.2 1710,514.2 1711,514.2 1712,514.2 1713,514.2 1714,514.2 1715,514.2 1716,514.2 1717,514.2 1718,514.2 1719,514.2 1720,514.2 1721,514.2 1722,514.2 1723,514.2 1724,514.2 1725,514.2 1726,514.2 1727,514.1 1728,514.1 1729,514.1 1730,514 1731,514 1732,513.8 1733,513.7 1734,513.5 1735,513.3 1736,512.9 1737,512.5 1738,511.9 1739,511.1 1740,510.1 1741,508.9 1742,507.4 1743,505.5 1744,503.1 1745,500.3 1746,497 1747,493 1748,488.3 1749,483 1750,476.9 1751,469.9 1752,462.3 1753,453.8 1754,444.6 1755,434.8 1756,424.5 1757,413.7 1758,402.7 1759,391.7 1760,380.9 1761,370.4 1762,360.6 1763,351.7 1764,343.9 1765,337.3 1766,332.2 1767,328.8 1768,327 1769,327 1770,328.8 1771,332.2 1772,337.3 1773,343.9 1774,351.7 1775,360.6 1776,370.4 1777,380.9 1778,391.7 1779,402.7 1780,413.7 1781,424.5 1782,434.8 1783,444.6 1784,453.8 1785,462.3 1786,469.9 1787,476.9 1788,483 1789,488.3 1790,493 1791,497 1792,500.3 1793,503.1 1794,505.5 1795,507.4 1796,508.9 1797,510.1 1798,511.1 1799,511.9 1800,512.5 1801,512.9 1802,513.3 1803,513.5 1804,513.7 1805,513.8 1806,514 1807,514 1808,514.1 1809,514.1 1810,514.1 1811,514.2 1812,514.2 1813,514.2 1814,514.2 1815,514.2 1816,514.2 1817,514.2 1818,514.2 1819,514.2 1820,514.2 1821,514.2 1822,514.2 1823,514.2 1824,514.2 1825,514.2 1826,514.2 1827,514.2 1828,514.2 1829,514.2 1830,514.2 1831,514.2 1832,514.2 1833,514.2 1834,514.2 1835,514.2 1836,514.2 1837,514.2 1838,514.2 1839,514.2 1840,514.2 1841,514.2 1842,514.2 1843,514.2 1844,514.2 1845,514.2 1846,514.2 1847,514.2 1848,514.2 1849,514.2 1850,514.2 1851,514.2 1852,514.2 1853,514.2 1854,514.2 1855,514.2 1856,514.2 1857,514.2 1858,514.2 1859,514.2 1860,514.2 1861,514.2 1862,514.2 1863,514.2 1864,514.2 1865,514.2 1866,514.2 1867,514.2 1868,514.2 1869,514.2 1870,514.2 1871,514.2 1872,514.2 1873,514.2 1874,514.2 1875,514.2 1876,514.2 1877,514.2 1878,514.2 1879,514.2 1880,514.2 1881,514.2 1882,514.2 1883,514.2 1884,514.2 1885,514.2 1886,514.2 1887,514.2 1888,514.2 1889,514.2 1890,514.2 1891,514.2 1892,514.2 1893,514.2 1894,514.2 1895,514.2 1896,514.2 1897,514.2 1898,514.2 1899,514.2 1900,514.2 1901,514.2 1902,514.2 1903,514.2 1904,514.2 1905,514.2 1906,514.2 1907,514.2 1908,514.2 1909,514.2 1910,514.2 1911,514.2 1912,514.2 1913,514.2 1914,514.2 1915,514.2 1916,514.2 1917,514.2 1918,514.2 1919,514.2 1920,514.2 1921,514.2 1922,514.2 1923,514.2 1924,514.2 1925,514.2 1926,514.2 1927,514.2 1928,514.2 1929,514.2 1930,514.2 1931,514.2 1932,514.2 1933,514.2 1934,514.2 1935,514.2 1936,514.2 1937,514.2 1938,514.2 1939,514.2 1940,514.2 1941,514.2 1942,514.2 1943,514.2 1944,514.2 1945,514.2 1946,514.2 1947,514.2 1948,514.2 1949,514.2 1950,514.2 1951,514.2 1952,514.2 1953,514.2 1954,514.2 1955,514.2 1956,514.2 1957,514.2 1958,514.2 1959,514.2 1960,514.2 1961,514.2 1962,514.2 1963,514.2 1964,514.2 1965,514.2 1966,514.2 1967,514.2"/><polyline fill="none" stroke="#0000ff" stroke-width="4.2" stroke-linejoin="round" points="1486,514.2 1487,514.2 1488,514.2 1489,514.2 1490,514.2 1491,514.2 1492,514.2 1493,514.2 1494,514.2 1495,514.2 1496,514.2 1497,514.2 1498,514.2 1499,514.2 1500,514.2 1501,514.2 1502,514.2 1503,514.2 1504,514.2 1505,514.2 1506,514.2 1507,514.2 1508,514.2 1509,514.2 1510,514.2 1511,514.2 1512,514.2 1513,514.2 1514,514.2 1515,514.2 1516,514.2 1517,514.2 1518,514.2 1519,514.2 1520,514.2 1521,514.2 1522,514.2 1523,514.2 1524,514.2 1525,514.2 1526,514.2 1527,514.2 1528,514.2 1529,514.2 1530,514.2 1531,514.2 1532,514.2 1533,514.2 1534,514.2 1535,514.2 1536,514.2 1537,514.2 1538,514.2 1539,514.2 1540,514.2 1541,514.2 1542,514.2 1543,514.2 1544,514.2 1545,514.2 1546,514.2 1547,514.2 1548,514.2 1549,514.2 1550,514.2 1551,514.2 1552,514.2 1553,514.2 1554,514.2 1555,514.2 1556,514.2 1557,514.2 1558,514.2 1559,514.2 1560,514.2 1561,514.2 1562,514.2 1563,514.2 1564,514.2 1565,514.2 1566,514.2 1567,514.2 1568,514.2 1569,514.2 1570,514.2 1571,514.2 1572,514.2 1573,514.2 1574,514.2 1575,514.2 1576,514.2 1577,514.2 1578,514.2 1579,514.2 1580,514.2 1581,514.2 1582,514.2 1583,514.2 1584,514.2 1585,514.2 1586,514.2 1587,514.2 1588,514.2 1589,514.2 1590,514.2 1591,514.2 1592,514.2 1593,514.2 1594,514.2 1595,514.2 1596,514.2 1597,514.2 1598,514.2 1599,514.2 1600,514.2 1601,514.2 1602,514.2 1603,514.2 1604,514.2 1605,514.2 1606,514.2 1607,514.2 1608,514.2 1609,514.2 1610,514.2 1611,514.2 1612,514.2 1613,514.2 1614,514.2 1615,514.2 1616,514.2 1617,514.2 1618,514.2 1619,514.2 1620,514.2 1621,514.2 1622,514.2 1623,514.2 1624,514.2 1625,514.2 1626,514.2 1627,514.2 1628,514.2 1629,514.2 1630,514.2 1631,514.2 1632,514.2 1633,514.2 1634,514.2 1635,514.2 1636,514.2 1637,514.2 1638,514.2 1639,514.2 1640,514.2 1641,514.2 1642,514.2 1643,514.2 1644,514.2 1645,514.2 1646,514.2 1647,514.2 1648,514.2 1649,514.2 1650,514.2 1651,514.2 1652,514.2 1653,514.2 1654,514.2 1655,514.2 1656,514.2 1657,514.2 1658,514.2 1659,514.2 1660,514.2 1661,514.2 1662,514.2 1663,514.2 1664,514.2 1665,514.2 1666,514.2 1667,514.2 1668,514.2 1669,514.2 1670,514.2 1671,514.2 1672,514.2 1673,514.2 1674,514.2 1675,514.2 1676,514.2 1677,514.1 1678,514.1 1679,514.1 1680,514 1681,513.9 1682,513.8 1683,513.7 1684,513.5 1685,513.3 1686,513 1687,512.6 1688,512 1689,511.3 1690,510.5 1691,509.4 1692,508 1693,506.3 1694,504.2 1695,501.7 1696,498.6 1697,494.9 1698,490.5 1699,485.4 1700,479.3 1701,472.3 1702,464.3 1703,455.2 1704,444.9 1705,433.4 1706,420.7 1707,406.9 1708,391.9 1709,375.8 1710,358.8 1711,341 1712,322.6 1713,303.8 1714,284.9 1715,266.1 1716,247.7 1717,230.1 1718,213.6 1719,198.5 1720,185.1 1721,173.6 1722,164.4 1723,157.6 1724,153.3 1725,151.7 1726,152.8 1727,156.5 1728,162.8 1729,171.5 1730,182.5 1731,195.4 1732,210.1 1733,226.2 1734,243.4 1735,261.4 1736,279.8 1737,298.3 1738,316.5 1739,334.3 1740,351.3 1741,367.2 1742,381.9 1743,395.2 1744,407 1745,417.1 1746,425.4 1747,432 1748,436.7 1749,439.6 1750,440.6 1751,440 1752,437.6 1753,433.7 1754,428.4 1755,421.7 1756,414 1757,405.5 1758,396.2 1759,386.7 1760,377 1761,367.4 1762,358.3 1763,350 1764,342.5 1765,336.3 1766,331.5 1767,328.2 1768,326.6 1769,326.7 1770,328.6 1771,332.1 1772,337.2 1773,343.8 1774,351.6 1775,360.6 1776,370.4 1777,380.9 1778,391.7 1779,402.7 1780,413.7 1781,424.5 1782,434.8 1783,444.6 1784,453.8 1785,462.3 1786,469.9 1787,476.9 1788,483 1789,488.3 1790,493 1791,497 1792,500.3 1793,503.1 1794,505.5 1795,507.4 1796,508.9 1797,510.1 1798,511.1 1799,511.9 1800,512.5 1801,512.9 1802,513.3 1803,513.5 1804,513.7 1805,513.8 1806,514 1807,514 1808,514.1 1809,514.1 1810,514.1 1811,514.2 1812,514.2 1813,514.2 1814,514.2 1815,514.2 1816,514.2 1817,514.2 1818,514.2 1819,514.2 1820,514.2 1821,514.2 1822,514.2 1823,514.2 1824,514.2 1825,514.2 1826,514.2 1827,514.2 1828,514.2 1829,514.2 1830,514.2 1831,514.2 1832,514.2 1833,514.2 1834,514.2 1835,514.2 1836,514.2 1837,514.2 1838,514.2 1839,514.2 1840,514.2 1841,514.2 1842,514.2 1843,514.2 1844,514.2 1845,514.2 1846,514.2 1847,514.2 1848,514.2 1849,514.2 1850,514.2 1851,514.2 1852,514.2 1853,514.2 1854,514.2 1855,514.2 1856,514.2 1857,514.2 1858,514.2 1859,514.2 1860,514.2 1861,514.2 1862,514.2 1863,514.2 1864,514.2 1865,514.2 1866,514.2 1867,514.2 1868,514.2 1869,514.2 1870,514.2 1871,514.2 1872,514.2 1873,514.2 1874,514.2 1875,514.2 1876,514.2 1877,514.2 1878,514.2 1879,514.2 1880,514.2 1881,514.2 1882,514.2 1883,514.2 1884,514.2 1885,514.2 1886,514.2 1887,514.2 1888,514.2 1889,514.2 1890,514.2 1891,514.2 1892,514.2 1893,514.2 1894,514.2 1895,514.2 1896,514.2 1897,514.2 1898,514.2 1899,514.2 1900,514.2 1901,514.2 1902,514.2 1903,514.2 1904,514.2 1905,514.2 1906,514.2 1907,514.2 1908,514.2 1909,514.2 1910,514.2 1911,514.2 1912,514.2 1913,514.2 1914,514.2 1915,514.2 1916,514.2 1917,514.2 1918,514.2 1919,514.2 1920,514.2 1921,514.2 1922,514.2 1923,514.2 1924,514.2 1925,514.2 1926,514.2 1927,514.2 1928,514.2 1929,514.2 1930,514.2 1931,514.2 1932,514.2 1933,514.2 1934,514.2 1935,514.2 1936,514.2 1937,514.2 1938,514.2 1939,514.2 1940,514.2 1941,514.2 1942,514.2 1943,514.2 1944,514.2 1945,514.2 1946,514.2 1947,514.2 1948,514.2 1949,514.2 1950,514.2 1951,514.2 1952,514.2 1953,514.2 1954,514.2 1955,514.2 1956,514.2 1957,514.2 1958,514.2 1959,514.2 1960,514.2 1961,514.2 1962,514.2 1963,514.2 1964,514.2 1965,514.2 1966,514.2 1967,514.2"/></svg>
</body></html>
